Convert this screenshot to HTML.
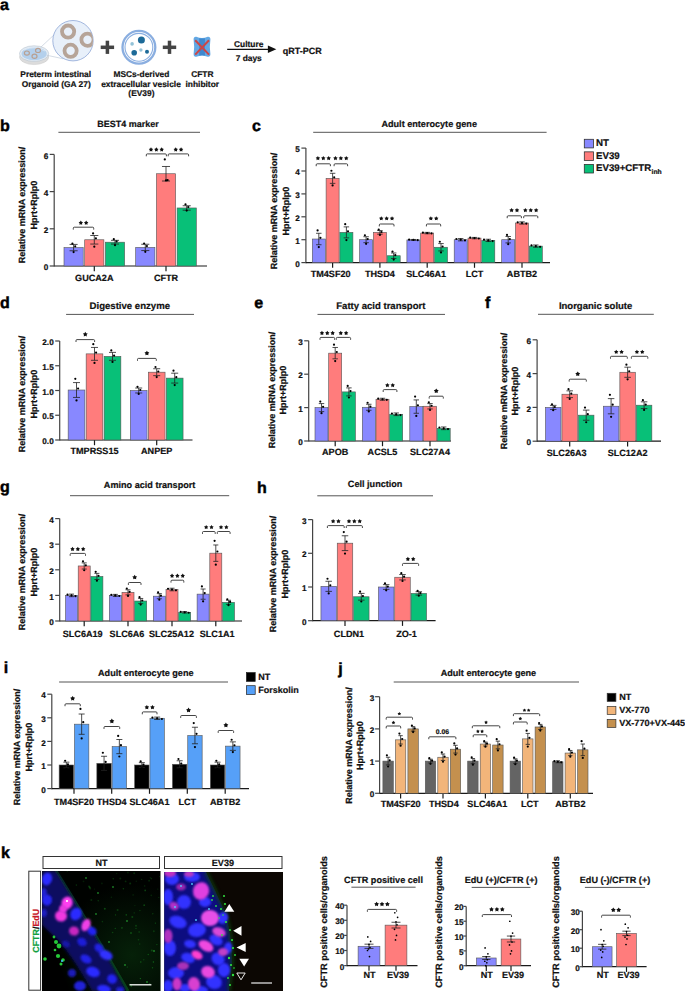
<!DOCTYPE html><html><head><meta charset="utf-8"><style>html,body{margin:0;padding:0;background:#fff;}svg{display:block;}</style></head><body>
<svg width="685" height="991" viewBox="0 0 685 991" font-family="'Liberation Sans', sans-serif" text-rendering="geometricPrecision">
<rect width="685" height="991" fill="#fff"/>
<text x="0.00" y="9.50" font-size="16" font-weight="bold" fill="#000" stroke="#000" stroke-width="0.45">a</text>
<ellipse cx="34.1" cy="57" rx="14.6" ry="7.6" fill="#dcdcdc" stroke="#c8c8c8" stroke-width="0.5"/>
<ellipse cx="34.1" cy="53.6" rx="14.6" ry="7.8" fill="#e4ecf4" stroke="#b8c4d0" stroke-width="0.6"/>
<ellipse cx="34.1" cy="53.8" rx="12.6" ry="6.4" fill="#b4d0ec"/>
<path d="M24,50 Q34,45 45,51" stroke="#dfeaf6" stroke-width="1" fill="none" opacity="0.8"/>
<ellipse cx="26.9" cy="53.1" rx="2.5" ry="2.1" fill="none" stroke="#b8a092" stroke-width="1.2"/>
<ellipse cx="38" cy="50.4" rx="2.5" ry="2.1" fill="none" stroke="#b8a092" stroke-width="1.2"/>
<ellipse cx="34.5" cy="56.3" rx="2.5" ry="2.1" fill="none" stroke="#b8a092" stroke-width="1.2"/>
<line x1="40.8" y1="47.2" x2="54.5" y2="34.4" stroke="#b8c4d4" stroke-width="0.6"/>
<line x1="46.6" y1="55.2" x2="63.3" y2="58.8" stroke="#b8c4d4" stroke-width="0.6"/>
<defs><clipPath id="zc"><circle cx="73" cy="40.7" r="20"/></clipPath></defs>
<circle cx="73" cy="40.7" r="20.2" fill="#e8f0fa" stroke="#7f9bd0" stroke-width="0.7"/>
<g clip-path="url(#zc)">
<circle cx="68.1" cy="31.6" r="6.1" fill="none" stroke="#b6a498" stroke-width="3.8"/>
<circle cx="70.6" cy="50.8" r="6.1" fill="none" stroke="#b6a498" stroke-width="3.8"/>
<circle cx="87.5" cy="39.7" r="6.1" fill="none" stroke="#b6a498" stroke-width="3.8"/>
</g>
<text x="55.70" y="77.00" font-size="8.4" text-anchor="middle" font-weight="bold" fill="#111" stroke="#111" stroke-width="0.2" >Preterm intestinal</text>
<text x="56.20" y="87.30" font-size="8.4" text-anchor="middle" font-weight="bold" fill="#111" stroke="#111" stroke-width="0.2" >Organoid (GA 27)</text>
<rect x="100.7" y="45.55" width="13.4" height="3.5" fill="#444"/>
<rect x="105.65" y="40.7" width="3.5" height="13.2" fill="#444"/>
<rect x="162.8" y="45.55" width="13.4" height="3.5" fill="#444"/>
<rect x="167.75" y="40.7" width="3.5" height="13.2" fill="#444"/>
<circle cx="138.9" cy="47.3" r="16.4" fill="none" stroke="#8aaee0" stroke-width="2.3"/>
<circle cx="138.9" cy="47.3" r="13.9" fill="#fff" stroke="#8aaee0" stroke-width="1.1"/>
<circle cx="141.4" cy="40" r="3.5" fill="#1d6a98"/>
<circle cx="134.2" cy="52.7" r="2.8" fill="#1d6a98"/>
<circle cx="147" cy="51.8" r="2.0" fill="#1d6a98"/>
<circle cx="132.1" cy="43.9" r="1.8" fill="#92c2d8"/>
<circle cx="140.9" cy="50" r="1.7" fill="#92c2d8"/>
<text x="141.40" y="76.80" font-size="8.4" text-anchor="middle" font-weight="bold" fill="#111" stroke="#111" stroke-width="0.2" >MSCs-derived</text>
<text x="141.00" y="86.80" font-size="8.4" text-anchor="middle" font-weight="bold" fill="#111" stroke="#111" stroke-width="0.2" >extracellular vesicle</text>
<text x="141.40" y="96.40" font-size="8.4" text-anchor="middle" font-weight="bold" fill="#111" stroke="#111" stroke-width="0.2" >(EV39)</text>
<path d="M196.3,36.8 Q202,39.2 207.7,36.8 Q210.4,36.4 210.4,39.5 Q209.3,46.7 210.4,54 Q210.4,57.2 207.7,56.7 Q202,54.6 196.3,56.7 Q193.6,57.2 193.6,54 Q194.7,46.7 193.6,39.5 Q193.6,36.4 196.3,36.8 Z" fill="#62a8e4"/>
<path d="M199.2,38.2 Q202,38.9 204.9,38.2 L204.9,55.4 Q202,54.7 199.2,55.4 Z" fill="#3f88cf"/>
<line x1="195.2" y1="40.2" x2="209" y2="54.6" stroke="#cc4646" stroke-width="2"/>
<line x1="209" y1="40.2" x2="195.2" y2="54.6" stroke="#cc4646" stroke-width="2"/>
<text x="202.30" y="76.90" font-size="8.4" text-anchor="middle" font-weight="bold" fill="#111" stroke="#111" stroke-width="0.2" >CFTR</text>
<text x="202.30" y="86.90" font-size="8.4" text-anchor="middle" font-weight="bold" fill="#111" stroke="#111" stroke-width="0.2" >inhibitor</text>
<line x1="227.20" y1="49.30" x2="269.00" y2="49.30" stroke="#111" stroke-width="1.2"/>
<path d="M267.9,45.6 L276.3,49.3 L267.9,53 Z" fill="#111"/>
<text x="248.70" y="46.90" font-size="8.4" text-anchor="middle" font-weight="bold" fill="#111" stroke="#111" stroke-width="0.2" >Culture</text>
<text x="248.70" y="60.70" font-size="8.4" text-anchor="middle" font-weight="bold" fill="#111" stroke="#111" stroke-width="0.2" >7 days</text>
<text x="282.80" y="53.80" font-size="9" text-anchor="start" font-weight="bold" fill="#111" stroke="#111" stroke-width="0.2" >qRT-PCR</text>
<text x="0.00" y="131.00" font-size="16" font-weight="bold" fill="#000" stroke="#000" stroke-width="0.45">b</text>
<line x1="58.40" y1="132.30" x2="200.00" y2="132.30" stroke="#555" stroke-width="1.0"/>
<text x="128.00" y="126.70" font-size="9.0" text-anchor="middle" font-weight="bold" fill="#111" stroke="#111" stroke-width="0.2" >BEST4 marker</text>
<text x="24.90" y="205.00" font-size="9" text-anchor="middle" font-weight="bold" fill="#111" stroke="#111" stroke-width="0.22" transform="rotate(-90 24.90 205.00)">Relative mRNA expression/</text>
<text x="36.90" y="205.00" font-size="9" text-anchor="middle" font-weight="bold" fill="#111" stroke="#111" stroke-width="0.22" transform="rotate(-90 36.90 205.00)">Hprt+Rplp0</text>
<line x1="54.20" y1="154.40" x2="54.20" y2="266.60" stroke="#444" stroke-width="1.2"/>
<line x1="54.20" y1="266.00" x2="207.00" y2="266.00" stroke="#1a1a1a" stroke-width="1.2"/>
<line x1="49.70" y1="266.00" x2="54.20" y2="266.00" stroke="#444" stroke-width="1.2"/>
<text x="48.20" y="270.15" font-size="8.2" text-anchor="end" font-weight="bold" fill="#111" stroke="#111" stroke-width="0.2" >0</text>
<line x1="49.70" y1="228.80" x2="54.20" y2="228.80" stroke="#444" stroke-width="1.2"/>
<text x="48.20" y="232.95" font-size="8.2" text-anchor="end" font-weight="bold" fill="#111" stroke="#111" stroke-width="0.2" >2</text>
<line x1="49.70" y1="191.60" x2="54.20" y2="191.60" stroke="#444" stroke-width="1.2"/>
<text x="48.20" y="195.75" font-size="8.2" text-anchor="end" font-weight="bold" fill="#111" stroke="#111" stroke-width="0.2" >4</text>
<line x1="49.70" y1="154.40" x2="54.20" y2="154.40" stroke="#444" stroke-width="1.2"/>
<text x="48.20" y="158.55" font-size="8.2" text-anchor="end" font-weight="bold" fill="#111" stroke="#111" stroke-width="0.2" >6</text>
<line x1="94.30" y1="266.00" x2="94.30" y2="271.20" stroke="#1a1a1a" stroke-width="1.2"/>
<rect x="64.00" y="247.59" width="19.20" height="18.41" fill="#8888FF" stroke="#555" stroke-width="0.6"/>
<line x1="73.60" y1="244.42" x2="73.60" y2="250.75" stroke="#222" stroke-width="0.8"/>
<line x1="69.57" y1="244.42" x2="77.63" y2="244.42" stroke="#222" stroke-width="0.8"/>
<line x1="69.57" y1="250.75" x2="77.63" y2="250.75" stroke="#222" stroke-width="0.8"/>
<circle cx="72.40" cy="243.68" r="1.1" fill="#000"/>
<circle cx="75.20" cy="246.28" r="1.1" fill="#000"/>
<circle cx="73.60" cy="252.05" r="1.1" fill="#000"/>
<rect x="84.70" y="239.77" width="19.20" height="26.23" fill="#FF7C7C" stroke="#555" stroke-width="0.6"/>
<line x1="94.30" y1="235.50" x2="94.30" y2="244.05" stroke="#222" stroke-width="0.8"/>
<line x1="90.27" y1="235.50" x2="98.33" y2="235.50" stroke="#222" stroke-width="0.8"/>
<line x1="90.27" y1="244.05" x2="98.33" y2="244.05" stroke="#222" stroke-width="0.8"/>
<circle cx="93.10" cy="233.45" r="1.1" fill="#000"/>
<circle cx="95.90" cy="238.29" r="1.1" fill="#000"/>
<circle cx="94.30" cy="246.66" r="1.1" fill="#000"/>
<rect x="105.40" y="242.19" width="19.20" height="23.81" fill="#08C078" stroke="#555" stroke-width="0.6"/>
<line x1="115.00" y1="240.33" x2="115.00" y2="244.05" stroke="#222" stroke-width="0.8"/>
<line x1="110.97" y1="240.33" x2="119.03" y2="240.33" stroke="#222" stroke-width="0.8"/>
<line x1="110.97" y1="244.05" x2="119.03" y2="244.05" stroke="#222" stroke-width="0.8"/>
<circle cx="113.80" cy="239.22" r="1.1" fill="#000"/>
<circle cx="116.60" cy="241.45" r="1.1" fill="#000"/>
<circle cx="115.00" cy="245.17" r="1.1" fill="#000"/>
<text x="94.30" y="281.10" font-size="9.1" text-anchor="middle" font-weight="bold" fill="#111" stroke="#111" stroke-width="0.2" >GUCA2A</text>
<line x1="166.00" y1="266.00" x2="166.00" y2="271.20" stroke="#1a1a1a" stroke-width="1.2"/>
<rect x="135.70" y="247.40" width="19.20" height="18.60" fill="#8888FF" stroke="#555" stroke-width="0.6"/>
<line x1="145.30" y1="244.24" x2="145.30" y2="250.56" stroke="#222" stroke-width="0.8"/>
<line x1="141.27" y1="244.24" x2="149.33" y2="244.24" stroke="#222" stroke-width="0.8"/>
<line x1="141.27" y1="250.56" x2="149.33" y2="250.56" stroke="#222" stroke-width="0.8"/>
<circle cx="144.10" cy="243.49" r="1.1" fill="#000"/>
<circle cx="146.90" cy="246.10" r="1.1" fill="#000"/>
<circle cx="145.30" cy="251.86" r="1.1" fill="#000"/>
<rect x="156.40" y="173.74" width="19.20" height="92.26" fill="#FF7C7C" stroke="#555" stroke-width="0.6"/>
<line x1="166.00" y1="166.49" x2="166.00" y2="181.00" stroke="#222" stroke-width="0.8"/>
<line x1="161.97" y1="166.49" x2="170.03" y2="166.49" stroke="#222" stroke-width="0.8"/>
<line x1="161.97" y1="181.00" x2="170.03" y2="181.00" stroke="#222" stroke-width="0.8"/>
<circle cx="164.80" cy="159.42" r="1.1" fill="#000"/>
<circle cx="167.60" cy="180.07" r="1.1" fill="#000"/>
<circle cx="166.00" cy="180.44" r="1.1" fill="#000"/>
<rect x="177.10" y="207.97" width="19.20" height="58.03" fill="#08C078" stroke="#555" stroke-width="0.6"/>
<line x1="186.70" y1="205.74" x2="186.70" y2="210.20" stroke="#222" stroke-width="0.8"/>
<line x1="182.67" y1="205.74" x2="190.73" y2="205.74" stroke="#222" stroke-width="0.8"/>
<line x1="182.67" y1="210.20" x2="190.73" y2="210.20" stroke="#222" stroke-width="0.8"/>
<circle cx="185.50" cy="204.43" r="1.1" fill="#000"/>
<circle cx="188.30" cy="207.04" r="1.1" fill="#000"/>
<circle cx="186.70" cy="210.57" r="1.1" fill="#000"/>
<text x="166.00" y="281.10" font-size="9.1" text-anchor="middle" font-weight="bold" fill="#111" stroke="#111" stroke-width="0.2" >CFTR</text>
<path d="M73.30,229.60 V228.20 Q73.30,227.20 74.30,227.20 H92.70 Q93.70,227.20 93.70,228.20 V229.60" fill="none" stroke="#222" stroke-width="0.85"/>
<path d="M80.83,220.60 L81.58,221.86 L83.01,222.19 L82.05,223.30 L82.18,224.76 L80.83,224.19 L79.47,224.76 L79.60,223.30 L78.64,222.19 L80.07,221.86 Z M86.17,220.60 L86.93,221.86 L88.36,222.19 L87.40,223.30 L87.53,224.76 L86.17,224.19 L84.82,224.76 L84.95,223.30 L83.99,222.19 L85.42,221.86 Z" fill="#111"/>
<path d="M146.30,156.30 V154.90 Q146.30,153.90 147.30,153.90 H165.40 Q166.40,153.90 166.40,154.90 V156.30" fill="none" stroke="#222" stroke-width="0.85"/>
<path d="M151.00,147.30 L151.76,148.56 L153.19,148.89 L152.22,150.00 L152.35,151.46 L151.00,150.89 L149.65,151.46 L149.78,150.00 L148.81,148.89 L150.24,148.56 Z M156.35,147.30 L157.11,148.56 L158.54,148.89 L157.57,150.00 L157.70,151.46 L156.35,150.89 L155.00,151.46 L155.13,150.00 L154.16,148.89 L155.59,148.56 Z M161.70,147.30 L162.46,148.56 L163.89,148.89 L162.92,150.00 L163.05,151.46 L161.70,150.89 L160.35,151.46 L160.48,150.00 L159.51,148.89 L160.94,148.56 Z" fill="#111"/>
<path d="M168.20,156.30 V154.90 Q168.20,153.90 169.20,153.90 H187.60 Q188.60,153.90 188.60,154.90 V156.30" fill="none" stroke="#222" stroke-width="0.85"/>
<path d="M175.72,147.30 L176.48,148.56 L177.91,148.89 L176.95,150.00 L177.08,151.46 L175.72,150.89 L174.37,151.46 L174.50,150.00 L173.54,148.89 L174.97,148.56 Z M181.07,147.30 L181.83,148.56 L183.26,148.89 L182.30,150.00 L182.43,151.46 L181.07,150.89 L179.72,151.46 L179.85,150.00 L178.89,148.89 L180.32,148.56 Z" fill="#111"/>
<text x="252.00" y="131.20" font-size="16" font-weight="bold" fill="#000" stroke="#000" stroke-width="0.45">c</text>
<line x1="313.20" y1="132.30" x2="546.60" y2="132.30" stroke="#555" stroke-width="1.0"/>
<text x="429.20" y="126.90" font-size="9.1" text-anchor="middle" font-weight="bold" fill="#111" stroke="#111" stroke-width="0.2" >Adult enterocyte gene</text>
<text x="277.40" y="211.00" font-size="9" text-anchor="middle" font-weight="bold" fill="#111" stroke="#111" stroke-width="0.22" transform="rotate(-90 277.40 211.00)">Relative mRNA expression/</text>
<text x="288.60" y="211.00" font-size="9" text-anchor="middle" font-weight="bold" fill="#111" stroke="#111" stroke-width="0.22" transform="rotate(-90 288.60 211.00)">Hprt+Rplp0</text>
<line x1="305.90" y1="148.10" x2="305.90" y2="263.20" stroke="#444" stroke-width="1.2"/>
<line x1="305.90" y1="262.60" x2="550.00" y2="262.60" stroke="#1a1a1a" stroke-width="1.2"/>
<line x1="301.40" y1="262.60" x2="305.90" y2="262.60" stroke="#444" stroke-width="1.2"/>
<text x="299.90" y="266.75" font-size="8.2" text-anchor="end" font-weight="bold" fill="#111" stroke="#111" stroke-width="0.2" >0</text>
<line x1="301.40" y1="239.70" x2="305.90" y2="239.70" stroke="#444" stroke-width="1.2"/>
<text x="299.90" y="243.85" font-size="8.2" text-anchor="end" font-weight="bold" fill="#111" stroke="#111" stroke-width="0.2" >1</text>
<line x1="301.40" y1="216.80" x2="305.90" y2="216.80" stroke="#444" stroke-width="1.2"/>
<text x="299.90" y="220.95" font-size="8.2" text-anchor="end" font-weight="bold" fill="#111" stroke="#111" stroke-width="0.2" >2</text>
<line x1="301.40" y1="193.90" x2="305.90" y2="193.90" stroke="#444" stroke-width="1.2"/>
<text x="299.90" y="198.05" font-size="8.2" text-anchor="end" font-weight="bold" fill="#111" stroke="#111" stroke-width="0.2" >3</text>
<line x1="301.40" y1="171.00" x2="305.90" y2="171.00" stroke="#444" stroke-width="1.2"/>
<text x="299.90" y="175.15" font-size="8.2" text-anchor="end" font-weight="bold" fill="#111" stroke="#111" stroke-width="0.2" >4</text>
<line x1="301.40" y1="148.10" x2="305.90" y2="148.10" stroke="#444" stroke-width="1.2"/>
<text x="299.90" y="152.25" font-size="8.2" text-anchor="end" font-weight="bold" fill="#111" stroke="#111" stroke-width="0.2" >5</text>
<line x1="332.60" y1="262.60" x2="332.60" y2="267.80" stroke="#1a1a1a" stroke-width="1.2"/>
<rect x="312.30" y="239.01" width="13.00" height="23.59" fill="#8888FF" stroke="#555" stroke-width="0.6"/>
<line x1="318.80" y1="233.29" x2="318.80" y2="244.74" stroke="#222" stroke-width="0.8"/>
<line x1="316.07" y1="233.29" x2="321.53" y2="233.29" stroke="#222" stroke-width="0.8"/>
<line x1="316.07" y1="244.74" x2="321.53" y2="244.74" stroke="#222" stroke-width="0.8"/>
<circle cx="317.60" cy="230.43" r="1.1" fill="#000"/>
<circle cx="320.40" cy="237.87" r="1.1" fill="#000"/>
<circle cx="318.80" cy="247.03" r="1.1" fill="#000"/>
<rect x="326.10" y="178.33" width="13.00" height="84.27" fill="#FF7C7C" stroke="#555" stroke-width="0.6"/>
<line x1="332.60" y1="173.29" x2="332.60" y2="183.37" stroke="#222" stroke-width="0.8"/>
<line x1="329.87" y1="173.29" x2="335.33" y2="173.29" stroke="#222" stroke-width="0.8"/>
<line x1="329.87" y1="183.37" x2="335.33" y2="183.37" stroke="#222" stroke-width="0.8"/>
<circle cx="331.40" cy="170.77" r="1.1" fill="#000"/>
<circle cx="334.20" cy="177.32" r="1.1" fill="#000"/>
<circle cx="332.60" cy="185.38" r="1.1" fill="#000"/>
<rect x="339.90" y="232.37" width="13.00" height="30.23" fill="#08C078" stroke="#555" stroke-width="0.6"/>
<line x1="346.40" y1="226.88" x2="346.40" y2="237.87" stroke="#222" stroke-width="0.8"/>
<line x1="343.67" y1="226.88" x2="349.13" y2="226.88" stroke="#222" stroke-width="0.8"/>
<line x1="343.67" y1="237.87" x2="349.13" y2="237.87" stroke="#222" stroke-width="0.8"/>
<circle cx="345.20" cy="224.13" r="1.1" fill="#000"/>
<circle cx="348.00" cy="231.27" r="1.1" fill="#000"/>
<circle cx="346.40" cy="240.07" r="1.1" fill="#000"/>
<text x="330.60" y="277.10" font-size="9.1" text-anchor="middle" font-weight="bold" fill="#111" stroke="#111" stroke-width="0.2" >TM4SF20</text>
<line x1="379.90" y1="262.60" x2="379.90" y2="267.80" stroke="#1a1a1a" stroke-width="1.2"/>
<rect x="359.60" y="239.70" width="13.00" height="22.90" fill="#8888FF" stroke="#555" stroke-width="0.6"/>
<line x1="366.10" y1="236.72" x2="366.10" y2="242.68" stroke="#222" stroke-width="0.8"/>
<line x1="363.37" y1="236.72" x2="368.83" y2="236.72" stroke="#222" stroke-width="0.8"/>
<line x1="363.37" y1="242.68" x2="368.83" y2="242.68" stroke="#222" stroke-width="0.8"/>
<circle cx="364.90" cy="235.23" r="1.1" fill="#000"/>
<circle cx="367.70" cy="239.10" r="1.1" fill="#000"/>
<circle cx="366.10" cy="243.87" r="1.1" fill="#000"/>
<rect x="373.40" y="232.37" width="13.00" height="30.23" fill="#FF7C7C" stroke="#555" stroke-width="0.6"/>
<line x1="379.90" y1="230.54" x2="379.90" y2="234.20" stroke="#222" stroke-width="0.8"/>
<line x1="377.17" y1="230.54" x2="382.63" y2="230.54" stroke="#222" stroke-width="0.8"/>
<line x1="377.17" y1="234.20" x2="382.63" y2="234.20" stroke="#222" stroke-width="0.8"/>
<circle cx="378.70" cy="229.62" r="1.1" fill="#000"/>
<circle cx="381.50" cy="232.01" r="1.1" fill="#000"/>
<circle cx="379.90" cy="234.94" r="1.1" fill="#000"/>
<rect x="387.20" y="255.73" width="13.00" height="6.87" fill="#08C078" stroke="#555" stroke-width="0.6"/>
<line x1="393.70" y1="252.98" x2="393.70" y2="258.48" stroke="#222" stroke-width="0.8"/>
<line x1="390.97" y1="252.98" x2="396.43" y2="252.98" stroke="#222" stroke-width="0.8"/>
<line x1="390.97" y1="258.48" x2="396.43" y2="258.48" stroke="#222" stroke-width="0.8"/>
<circle cx="392.50" cy="251.61" r="1.1" fill="#000"/>
<circle cx="395.30" cy="255.18" r="1.1" fill="#000"/>
<circle cx="393.70" cy="259.58" r="1.1" fill="#000"/>
<text x="379.90" y="277.10" font-size="9.1" text-anchor="middle" font-weight="bold" fill="#111" stroke="#111" stroke-width="0.2" >THSD4</text>
<line x1="427.20" y1="262.60" x2="427.20" y2="267.80" stroke="#1a1a1a" stroke-width="1.2"/>
<rect x="406.90" y="239.93" width="13.00" height="22.67" fill="#8888FF" stroke="#555" stroke-width="0.6"/>
<line x1="413.40" y1="239.47" x2="413.40" y2="240.39" stroke="#222" stroke-width="0.8"/>
<line x1="410.67" y1="239.47" x2="416.13" y2="239.47" stroke="#222" stroke-width="0.8"/>
<line x1="410.67" y1="240.39" x2="416.13" y2="240.39" stroke="#222" stroke-width="0.8"/>
<circle cx="409.11" cy="239.65" r="1.1" fill="#000"/>
<circle cx="413.40" cy="239.93" r="1.1" fill="#000"/>
<circle cx="417.69" cy="240.20" r="1.1" fill="#000"/>
<rect x="420.70" y="233.06" width="13.00" height="29.54" fill="#FF7C7C" stroke="#555" stroke-width="0.6"/>
<line x1="427.20" y1="232.37" x2="427.20" y2="233.75" stroke="#222" stroke-width="0.8"/>
<line x1="424.47" y1="232.37" x2="429.93" y2="232.37" stroke="#222" stroke-width="0.8"/>
<line x1="424.47" y1="233.75" x2="429.93" y2="233.75" stroke="#222" stroke-width="0.8"/>
<circle cx="422.91" cy="232.65" r="1.1" fill="#000"/>
<circle cx="427.20" cy="233.06" r="1.1" fill="#000"/>
<circle cx="431.49" cy="233.47" r="1.1" fill="#000"/>
<rect x="434.50" y="247.26" width="13.00" height="15.34" fill="#08C078" stroke="#555" stroke-width="0.6"/>
<line x1="441.00" y1="243.59" x2="441.00" y2="250.92" stroke="#222" stroke-width="0.8"/>
<line x1="438.27" y1="243.59" x2="443.73" y2="243.59" stroke="#222" stroke-width="0.8"/>
<line x1="438.27" y1="250.92" x2="443.73" y2="250.92" stroke="#222" stroke-width="0.8"/>
<circle cx="439.80" cy="241.76" r="1.1" fill="#000"/>
<circle cx="442.60" cy="246.52" r="1.1" fill="#000"/>
<circle cx="441.00" cy="252.39" r="1.1" fill="#000"/>
<text x="426.20" y="277.10" font-size="9.1" text-anchor="middle" font-weight="bold" fill="#111" stroke="#111" stroke-width="0.2" >SLC46A1</text>
<line x1="474.50" y1="262.60" x2="474.50" y2="267.80" stroke="#1a1a1a" stroke-width="1.2"/>
<rect x="454.20" y="239.70" width="13.00" height="22.90" fill="#8888FF" stroke="#555" stroke-width="0.6"/>
<line x1="460.70" y1="238.56" x2="460.70" y2="240.85" stroke="#222" stroke-width="0.8"/>
<line x1="457.97" y1="238.56" x2="463.43" y2="238.56" stroke="#222" stroke-width="0.8"/>
<line x1="457.97" y1="240.85" x2="463.43" y2="240.85" stroke="#222" stroke-width="0.8"/>
<circle cx="456.41" cy="239.01" r="1.1" fill="#000"/>
<circle cx="460.70" cy="239.70" r="1.1" fill="#000"/>
<circle cx="464.99" cy="240.39" r="1.1" fill="#000"/>
<rect x="468.00" y="238.10" width="13.00" height="24.50" fill="#FF7C7C" stroke="#555" stroke-width="0.6"/>
<line x1="474.50" y1="237.41" x2="474.50" y2="238.78" stroke="#222" stroke-width="0.8"/>
<line x1="471.77" y1="237.41" x2="477.23" y2="237.41" stroke="#222" stroke-width="0.8"/>
<line x1="471.77" y1="238.78" x2="477.23" y2="238.78" stroke="#222" stroke-width="0.8"/>
<circle cx="470.21" cy="237.68" r="1.1" fill="#000"/>
<circle cx="474.50" cy="238.10" r="1.1" fill="#000"/>
<circle cx="478.79" cy="238.51" r="1.1" fill="#000"/>
<rect x="481.80" y="240.39" width="13.00" height="22.21" fill="#08C078" stroke="#555" stroke-width="0.6"/>
<line x1="488.30" y1="239.24" x2="488.30" y2="241.53" stroke="#222" stroke-width="0.8"/>
<line x1="485.57" y1="239.24" x2="491.03" y2="239.24" stroke="#222" stroke-width="0.8"/>
<line x1="485.57" y1="241.53" x2="491.03" y2="241.53" stroke="#222" stroke-width="0.8"/>
<circle cx="484.01" cy="239.70" r="1.1" fill="#000"/>
<circle cx="488.30" cy="240.39" r="1.1" fill="#000"/>
<circle cx="492.59" cy="241.07" r="1.1" fill="#000"/>
<text x="474.50" y="277.10" font-size="9.1" text-anchor="middle" font-weight="bold" fill="#111" stroke="#111" stroke-width="0.2" >LCT</text>
<line x1="522.00" y1="262.60" x2="522.00" y2="267.80" stroke="#1a1a1a" stroke-width="1.2"/>
<rect x="501.70" y="239.70" width="13.00" height="22.90" fill="#8888FF" stroke="#555" stroke-width="0.6"/>
<line x1="508.20" y1="236.49" x2="508.20" y2="242.91" stroke="#222" stroke-width="0.8"/>
<line x1="505.47" y1="236.49" x2="510.93" y2="236.49" stroke="#222" stroke-width="0.8"/>
<line x1="505.47" y1="242.91" x2="510.93" y2="242.91" stroke="#222" stroke-width="0.8"/>
<circle cx="507.00" cy="234.89" r="1.1" fill="#000"/>
<circle cx="509.80" cy="239.06" r="1.1" fill="#000"/>
<circle cx="508.20" cy="244.19" r="1.1" fill="#000"/>
<rect x="515.50" y="222.98" width="13.00" height="39.62" fill="#FF7C7C" stroke="#555" stroke-width="0.6"/>
<line x1="522.00" y1="221.84" x2="522.00" y2="224.13" stroke="#222" stroke-width="0.8"/>
<line x1="519.27" y1="221.84" x2="524.73" y2="221.84" stroke="#222" stroke-width="0.8"/>
<line x1="519.27" y1="224.13" x2="524.73" y2="224.13" stroke="#222" stroke-width="0.8"/>
<circle cx="517.71" cy="222.30" r="1.1" fill="#000"/>
<circle cx="522.00" cy="222.98" r="1.1" fill="#000"/>
<circle cx="526.29" cy="223.67" r="1.1" fill="#000"/>
<rect x="529.30" y="246.11" width="13.00" height="16.49" fill="#08C078" stroke="#555" stroke-width="0.6"/>
<line x1="535.80" y1="244.97" x2="535.80" y2="247.26" stroke="#222" stroke-width="0.8"/>
<line x1="533.07" y1="244.97" x2="538.53" y2="244.97" stroke="#222" stroke-width="0.8"/>
<line x1="533.07" y1="247.26" x2="538.53" y2="247.26" stroke="#222" stroke-width="0.8"/>
<circle cx="531.51" cy="245.43" r="1.1" fill="#000"/>
<circle cx="535.80" cy="246.11" r="1.1" fill="#000"/>
<circle cx="540.09" cy="246.80" r="1.1" fill="#000"/>
<text x="522.00" y="277.10" font-size="9.1" text-anchor="middle" font-weight="bold" fill="#111" stroke="#111" stroke-width="0.2" >ABTB2</text>
<path d="M316.20,166.20 V164.80 Q316.20,163.80 317.20,163.80 H329.40 Q330.40,163.80 330.40,164.80 V166.20" fill="none" stroke="#222" stroke-width="0.85"/>
<path d="M317.90,156.00 L318.66,157.26 L320.09,157.59 L319.12,158.70 L319.25,160.16 L317.90,159.59 L316.55,160.16 L316.68,158.70 L315.71,157.59 L317.14,157.26 Z M323.30,156.00 L324.06,157.26 L325.49,157.59 L324.52,158.70 L324.65,160.16 L323.30,159.59 L321.95,160.16 L322.08,158.70 L321.11,157.59 L322.54,157.26 Z M328.70,156.00 L329.46,157.26 L330.89,157.59 L329.92,158.70 L330.05,160.16 L328.70,159.59 L327.35,160.16 L327.48,158.70 L326.51,157.59 L327.94,157.26 Z" fill="#111"/>
<path d="M334.10,166.20 V164.80 Q334.10,163.80 335.10,163.80 H346.60 Q347.60,163.80 347.60,164.80 V166.20" fill="none" stroke="#222" stroke-width="0.85"/>
<path d="M335.45,156.00 L336.21,157.26 L337.64,157.59 L336.67,158.70 L336.80,160.16 L335.45,159.59 L334.10,160.16 L334.23,158.70 L333.26,157.59 L334.69,157.26 Z M340.85,156.00 L341.61,157.26 L343.04,157.59 L342.07,158.70 L342.20,160.16 L340.85,159.59 L339.50,160.16 L339.63,158.70 L338.66,157.59 L340.09,157.26 Z M346.25,156.00 L347.01,157.26 L348.44,157.59 L347.47,158.70 L347.60,160.16 L346.25,159.59 L344.90,160.16 L345.03,158.70 L344.06,157.59 L345.49,157.26 Z" fill="#111"/>
<path d="M379.30,226.40 V225.00 Q379.30,224.00 380.30,224.00 H393.00 Q394.00,224.00 394.00,225.00 V226.40" fill="none" stroke="#222" stroke-width="0.85"/>
<path d="M381.25,216.20 L382.01,217.46 L383.44,217.79 L382.47,218.90 L382.60,220.36 L381.25,219.79 L379.90,220.36 L380.03,218.90 L379.06,217.79 L380.49,217.46 Z M386.65,216.20 L387.41,217.46 L388.84,217.79 L387.87,218.90 L388.00,220.36 L386.65,219.79 L385.30,220.36 L385.43,218.90 L384.46,217.79 L385.89,217.46 Z M392.05,216.20 L392.81,217.46 L394.24,217.79 L393.27,218.90 L393.40,220.36 L392.05,219.79 L390.70,220.36 L390.83,218.90 L389.86,217.79 L391.29,217.46 Z" fill="#111"/>
<path d="M426.40,226.40 V225.00 Q426.40,224.00 427.40,224.00 H439.70 Q440.70,224.00 440.70,225.00 V226.40" fill="none" stroke="#222" stroke-width="0.85"/>
<path d="M430.85,216.20 L431.61,217.46 L433.04,217.79 L432.07,218.90 L432.20,220.36 L430.85,219.79 L429.50,220.36 L429.63,218.90 L428.66,217.79 L430.09,217.46 Z M436.25,216.20 L437.01,217.46 L438.44,217.79 L437.47,218.90 L437.60,220.36 L436.25,219.79 L434.90,220.36 L435.03,218.90 L434.06,217.79 L435.49,217.46 Z" fill="#111"/>
<path d="M507.20,218.20 V216.80 Q507.20,215.80 508.20,215.80 H520.40 Q521.40,215.80 521.40,216.80 V218.20" fill="none" stroke="#222" stroke-width="0.85"/>
<path d="M511.60,208.00 L512.36,209.26 L513.79,209.59 L512.82,210.70 L512.95,212.16 L511.60,211.59 L510.25,212.16 L510.38,210.70 L509.41,209.59 L510.84,209.26 Z M517.00,208.00 L517.76,209.26 L519.19,209.59 L518.22,210.70 L518.35,212.16 L517.00,211.59 L515.65,212.16 L515.78,210.70 L514.81,209.59 L516.24,209.26 Z" fill="#111"/>
<path d="M523.70,218.20 V216.80 Q523.70,215.80 524.70,215.80 H536.80 Q537.80,215.80 537.80,216.80 V218.20" fill="none" stroke="#222" stroke-width="0.85"/>
<path d="M525.35,208.00 L526.11,209.26 L527.54,209.59 L526.57,210.70 L526.70,212.16 L525.35,211.59 L524.00,212.16 L524.13,210.70 L523.16,209.59 L524.59,209.26 Z M530.75,208.00 L531.51,209.26 L532.94,209.59 L531.97,210.70 L532.10,212.16 L530.75,211.59 L529.40,212.16 L529.53,210.70 L528.56,209.59 L529.99,209.26 Z M536.15,208.00 L536.91,209.26 L538.34,209.59 L537.37,210.70 L537.50,212.16 L536.15,211.59 L534.80,212.16 L534.93,210.70 L533.96,209.59 L535.39,209.26 Z" fill="#111"/>
<rect x="584.30" y="139.30" width="9.20" height="8.60" fill="#8888FF" stroke="#333" stroke-width="0.8"/>
<text x="596.00" y="146.30" font-size="9.7" text-anchor="start" font-weight="bold" fill="#111" stroke="#111" stroke-width="0.2" >NT</text>
<rect x="584.30" y="151.85" width="9.20" height="8.60" fill="#FF7C7C" stroke="#333" stroke-width="0.8"/>
<text x="596.00" y="158.85" font-size="9.7" text-anchor="start" font-weight="bold" fill="#111" stroke="#111" stroke-width="0.2" >EV39</text>
<rect x="584.30" y="164.40" width="9.20" height="8.60" fill="#08C078" stroke="#333" stroke-width="0.8"/>
<text x="596.00" y="171.40" font-size="9.7" text-anchor="start" font-weight="bold" fill="#111" stroke="#111" stroke-width="0.2" >EV39+CFTR</text>
<text x="651.50" y="174.00" font-size="6.8" text-anchor="start" font-weight="bold" fill="#111" stroke="#111" stroke-width="0.2" >inh</text>
<text x="0.00" y="307.50" font-size="16" font-weight="bold" fill="#000" stroke="#000" stroke-width="0.45">d</text>
<line x1="66.10" y1="314.40" x2="194.00" y2="314.40" stroke="#555" stroke-width="1.0"/>
<text x="129.80" y="308.50" font-size="9.6" text-anchor="middle" font-weight="bold" fill="#111" stroke="#111" stroke-width="0.2" >Digestive enzyme</text>
<text x="24.60" y="394.00" font-size="9" text-anchor="middle" font-weight="bold" fill="#111" stroke="#111" stroke-width="0.22" transform="rotate(-90 24.60 394.00)">Relative mRNA expression/</text>
<text x="36.90" y="394.00" font-size="9" text-anchor="middle" font-weight="bold" fill="#111" stroke="#111" stroke-width="0.22" transform="rotate(-90 36.90 394.00)">Hprt+Rplp0</text>
<line x1="59.70" y1="341.00" x2="59.70" y2="440.60" stroke="#444" stroke-width="1.2"/>
<line x1="59.70" y1="440.00" x2="192.50" y2="440.00" stroke="#1a1a1a" stroke-width="1.2"/>
<line x1="55.20" y1="440.00" x2="59.70" y2="440.00" stroke="#444" stroke-width="1.2"/>
<text x="53.70" y="444.15" font-size="8.2" text-anchor="end" font-weight="bold" fill="#111" stroke="#111" stroke-width="0.2" >0.0</text>
<line x1="55.20" y1="415.25" x2="59.70" y2="415.25" stroke="#444" stroke-width="1.2"/>
<text x="53.70" y="419.40" font-size="8.2" text-anchor="end" font-weight="bold" fill="#111" stroke="#111" stroke-width="0.2" >0.5</text>
<line x1="55.20" y1="390.50" x2="59.70" y2="390.50" stroke="#444" stroke-width="1.2"/>
<text x="53.70" y="394.65" font-size="8.2" text-anchor="end" font-weight="bold" fill="#111" stroke="#111" stroke-width="0.2" >1.0</text>
<line x1="55.20" y1="365.75" x2="59.70" y2="365.75" stroke="#444" stroke-width="1.2"/>
<text x="53.70" y="369.90" font-size="8.2" text-anchor="end" font-weight="bold" fill="#111" stroke="#111" stroke-width="0.2" >1.5</text>
<line x1="55.20" y1="341.00" x2="59.70" y2="341.00" stroke="#444" stroke-width="1.2"/>
<text x="53.70" y="345.15" font-size="8.2" text-anchor="end" font-weight="bold" fill="#111" stroke="#111" stroke-width="0.2" >2.0</text>
<line x1="94.50" y1="440.00" x2="94.50" y2="445.20" stroke="#1a1a1a" stroke-width="1.2"/>
<rect x="68.15" y="390.00" width="16.70" height="49.99" fill="#8888FF" stroke="#555" stroke-width="0.6"/>
<line x1="76.50" y1="382.58" x2="76.50" y2="397.43" stroke="#222" stroke-width="0.8"/>
<line x1="72.99" y1="382.58" x2="80.01" y2="382.58" stroke="#222" stroke-width="0.8"/>
<line x1="72.99" y1="397.43" x2="80.01" y2="397.43" stroke="#222" stroke-width="0.8"/>
<circle cx="75.30" cy="378.87" r="1.1" fill="#000"/>
<circle cx="78.10" cy="388.52" r="1.1" fill="#000"/>
<circle cx="76.50" cy="400.40" r="1.1" fill="#000"/>
<rect x="86.15" y="353.87" width="16.70" height="86.13" fill="#FF7C7C" stroke="#555" stroke-width="0.6"/>
<line x1="94.50" y1="347.44" x2="94.50" y2="360.31" stroke="#222" stroke-width="0.8"/>
<line x1="90.99" y1="347.44" x2="98.01" y2="347.44" stroke="#222" stroke-width="0.8"/>
<line x1="90.99" y1="360.31" x2="98.01" y2="360.31" stroke="#222" stroke-width="0.8"/>
<circle cx="93.30" cy="344.22" r="1.1" fill="#000"/>
<circle cx="96.10" cy="352.58" r="1.1" fill="#000"/>
<circle cx="94.50" cy="362.88" r="1.1" fill="#000"/>
<rect x="104.15" y="356.35" width="16.70" height="83.66" fill="#08C078" stroke="#555" stroke-width="0.6"/>
<line x1="112.50" y1="352.38" x2="112.50" y2="360.31" stroke="#222" stroke-width="0.8"/>
<line x1="108.99" y1="352.38" x2="116.01" y2="352.38" stroke="#222" stroke-width="0.8"/>
<line x1="108.99" y1="360.31" x2="116.01" y2="360.31" stroke="#222" stroke-width="0.8"/>
<circle cx="111.30" cy="350.40" r="1.1" fill="#000"/>
<circle cx="114.10" cy="355.55" r="1.1" fill="#000"/>
<circle cx="112.50" cy="361.89" r="1.1" fill="#000"/>
<text x="94.50" y="454.10" font-size="9.1" text-anchor="middle" font-weight="bold" fill="#111" stroke="#111" stroke-width="0.2" >TMPRSS15</text>
<line x1="156.70" y1="440.00" x2="156.70" y2="445.20" stroke="#1a1a1a" stroke-width="1.2"/>
<rect x="130.35" y="390.50" width="16.70" height="49.50" fill="#8888FF" stroke="#555" stroke-width="0.6"/>
<line x1="138.70" y1="388.02" x2="138.70" y2="392.98" stroke="#222" stroke-width="0.8"/>
<line x1="135.19" y1="388.02" x2="142.21" y2="388.02" stroke="#222" stroke-width="0.8"/>
<line x1="135.19" y1="392.98" x2="142.21" y2="392.98" stroke="#222" stroke-width="0.8"/>
<circle cx="137.50" cy="386.79" r="1.1" fill="#000"/>
<circle cx="140.30" cy="390.00" r="1.1" fill="#000"/>
<circle cx="138.70" cy="393.96" r="1.1" fill="#000"/>
<rect x="148.35" y="372.19" width="16.70" height="67.82" fill="#FF7C7C" stroke="#555" stroke-width="0.6"/>
<line x1="156.70" y1="368.72" x2="156.70" y2="375.65" stroke="#222" stroke-width="0.8"/>
<line x1="153.19" y1="368.72" x2="160.21" y2="368.72" stroke="#222" stroke-width="0.8"/>
<line x1="153.19" y1="375.65" x2="160.21" y2="375.65" stroke="#222" stroke-width="0.8"/>
<circle cx="155.50" cy="366.99" r="1.1" fill="#000"/>
<circle cx="158.30" cy="371.49" r="1.1" fill="#000"/>
<circle cx="156.70" cy="377.04" r="1.1" fill="#000"/>
<rect x="166.35" y="378.12" width="16.70" height="61.88" fill="#08C078" stroke="#555" stroke-width="0.6"/>
<line x1="174.70" y1="373.18" x2="174.70" y2="383.07" stroke="#222" stroke-width="0.8"/>
<line x1="171.19" y1="373.18" x2="178.21" y2="373.18" stroke="#222" stroke-width="0.8"/>
<line x1="171.19" y1="383.07" x2="178.21" y2="383.07" stroke="#222" stroke-width="0.8"/>
<circle cx="173.50" cy="370.70" r="1.1" fill="#000"/>
<circle cx="176.30" cy="377.13" r="1.1" fill="#000"/>
<circle cx="174.70" cy="385.06" r="1.1" fill="#000"/>
<text x="156.70" y="454.10" font-size="9.1" text-anchor="middle" font-weight="bold" fill="#111" stroke="#111" stroke-width="0.2" >ANPEP</text>
<path d="M76.00,342.00 V340.60 Q76.00,339.60 77.00,339.60 H93.60 Q94.60,339.60 94.60,340.60 V342.00" fill="none" stroke="#222" stroke-width="0.85"/>
<path d="M85.30,331.85 L86.14,333.24 L87.73,333.61 L86.66,334.84 L86.80,336.46 L85.30,335.83 L83.80,336.46 L83.94,334.84 L82.87,333.61 L84.46,333.24 Z" fill="#111"/>
<path d="M137.50,360.80 V359.40 Q137.50,358.40 138.50,358.40 H155.30 Q156.30,358.40 156.30,359.40 V360.80" fill="none" stroke="#222" stroke-width="0.85"/>
<path d="M146.90,350.65 L147.74,352.04 L149.33,352.41 L148.26,353.64 L148.40,355.26 L146.90,354.63 L145.40,355.26 L145.54,353.64 L144.47,352.41 L146.06,352.04 Z" fill="#111"/>
<text x="254.20" y="307.50" font-size="16" font-weight="bold" fill="#000" stroke="#000" stroke-width="0.45">e</text>
<line x1="317.50" y1="314.40" x2="445.00" y2="314.40" stroke="#555" stroke-width="1.0"/>
<text x="380.80" y="308.60" font-size="9.55" text-anchor="middle" font-weight="bold" fill="#111" stroke="#111" stroke-width="0.2" >Fatty acid transport</text>
<text x="274.80" y="390.00" font-size="9" text-anchor="middle" font-weight="bold" fill="#111" stroke="#111" stroke-width="0.22" transform="rotate(-90 274.80 390.00)">Relative mRNA expression/</text>
<text x="286.30" y="390.00" font-size="9" text-anchor="middle" font-weight="bold" fill="#111" stroke="#111" stroke-width="0.22" transform="rotate(-90 286.30 390.00)">Hprt+Rplp0</text>
<line x1="308.70" y1="340.80" x2="308.70" y2="441.60" stroke="#444" stroke-width="1.2"/>
<line x1="308.70" y1="441.00" x2="451.00" y2="441.00" stroke="#1a1a1a" stroke-width="1.2"/>
<line x1="304.20" y1="441.00" x2="308.70" y2="441.00" stroke="#444" stroke-width="1.2"/>
<text x="302.70" y="445.15" font-size="8.2" text-anchor="end" font-weight="bold" fill="#111" stroke="#111" stroke-width="0.2" >0</text>
<line x1="304.20" y1="407.60" x2="308.70" y2="407.60" stroke="#444" stroke-width="1.2"/>
<text x="302.70" y="411.75" font-size="8.2" text-anchor="end" font-weight="bold" fill="#111" stroke="#111" stroke-width="0.2" >1</text>
<line x1="304.20" y1="374.20" x2="308.70" y2="374.20" stroke="#444" stroke-width="1.2"/>
<text x="302.70" y="378.35" font-size="8.2" text-anchor="end" font-weight="bold" fill="#111" stroke="#111" stroke-width="0.2" >2</text>
<line x1="304.20" y1="340.80" x2="308.70" y2="340.80" stroke="#444" stroke-width="1.2"/>
<text x="302.70" y="344.95" font-size="8.2" text-anchor="end" font-weight="bold" fill="#111" stroke="#111" stroke-width="0.2" >3</text>
<line x1="335.20" y1="441.00" x2="335.20" y2="446.20" stroke="#1a1a1a" stroke-width="1.2"/>
<rect x="315.00" y="407.60" width="13.00" height="33.40" fill="#8888FF" stroke="#555" stroke-width="0.6"/>
<line x1="321.50" y1="403.59" x2="321.50" y2="411.61" stroke="#222" stroke-width="0.8"/>
<line x1="318.77" y1="403.59" x2="324.23" y2="403.59" stroke="#222" stroke-width="0.8"/>
<line x1="318.77" y1="411.61" x2="324.23" y2="411.61" stroke="#222" stroke-width="0.8"/>
<circle cx="320.30" cy="401.59" r="1.1" fill="#000"/>
<circle cx="323.10" cy="406.80" r="1.1" fill="#000"/>
<circle cx="321.50" cy="413.21" r="1.1" fill="#000"/>
<rect x="328.70" y="353.16" width="13.00" height="87.84" fill="#FF7C7C" stroke="#555" stroke-width="0.6"/>
<line x1="335.20" y1="347.48" x2="335.20" y2="358.84" stroke="#222" stroke-width="0.8"/>
<line x1="332.47" y1="347.48" x2="337.93" y2="347.48" stroke="#222" stroke-width="0.8"/>
<line x1="332.47" y1="358.84" x2="337.93" y2="358.84" stroke="#222" stroke-width="0.8"/>
<circle cx="334.00" cy="344.64" r="1.1" fill="#000"/>
<circle cx="336.80" cy="352.02" r="1.1" fill="#000"/>
<circle cx="335.20" cy="361.11" r="1.1" fill="#000"/>
<rect x="342.40" y="391.90" width="13.00" height="49.10" fill="#08C078" stroke="#555" stroke-width="0.6"/>
<line x1="348.90" y1="387.89" x2="348.90" y2="395.91" stroke="#222" stroke-width="0.8"/>
<line x1="346.17" y1="387.89" x2="351.63" y2="387.89" stroke="#222" stroke-width="0.8"/>
<line x1="346.17" y1="395.91" x2="351.63" y2="395.91" stroke="#222" stroke-width="0.8"/>
<circle cx="347.70" cy="385.89" r="1.1" fill="#000"/>
<circle cx="350.50" cy="391.10" r="1.1" fill="#000"/>
<circle cx="348.90" cy="397.51" r="1.1" fill="#000"/>
<text x="335.20" y="455.30" font-size="9.1" text-anchor="middle" font-weight="bold" fill="#111" stroke="#111" stroke-width="0.2" >APOB</text>
<line x1="382.50" y1="441.00" x2="382.50" y2="446.20" stroke="#1a1a1a" stroke-width="1.2"/>
<rect x="362.30" y="407.27" width="13.00" height="33.73" fill="#8888FF" stroke="#555" stroke-width="0.6"/>
<line x1="368.80" y1="404.26" x2="368.80" y2="410.27" stroke="#222" stroke-width="0.8"/>
<line x1="366.07" y1="404.26" x2="371.53" y2="404.26" stroke="#222" stroke-width="0.8"/>
<line x1="366.07" y1="410.27" x2="371.53" y2="410.27" stroke="#222" stroke-width="0.8"/>
<circle cx="367.60" cy="402.76" r="1.1" fill="#000"/>
<circle cx="370.40" cy="406.66" r="1.1" fill="#000"/>
<circle cx="368.80" cy="411.47" r="1.1" fill="#000"/>
<rect x="376.00" y="399.25" width="13.00" height="41.75" fill="#FF7C7C" stroke="#555" stroke-width="0.6"/>
<line x1="382.50" y1="398.25" x2="382.50" y2="400.25" stroke="#222" stroke-width="0.8"/>
<line x1="379.77" y1="398.25" x2="385.23" y2="398.25" stroke="#222" stroke-width="0.8"/>
<line x1="379.77" y1="400.25" x2="385.23" y2="400.25" stroke="#222" stroke-width="0.8"/>
<circle cx="378.21" cy="398.65" r="1.1" fill="#000"/>
<circle cx="382.50" cy="399.25" r="1.1" fill="#000"/>
<circle cx="386.79" cy="399.85" r="1.1" fill="#000"/>
<rect x="389.70" y="414.28" width="13.00" height="26.72" fill="#08C078" stroke="#555" stroke-width="0.6"/>
<line x1="396.20" y1="412.94" x2="396.20" y2="415.62" stroke="#222" stroke-width="0.8"/>
<line x1="393.47" y1="412.94" x2="398.93" y2="412.94" stroke="#222" stroke-width="0.8"/>
<line x1="393.47" y1="415.62" x2="398.93" y2="415.62" stroke="#222" stroke-width="0.8"/>
<circle cx="391.91" cy="413.48" r="1.1" fill="#000"/>
<circle cx="396.20" cy="414.28" r="1.1" fill="#000"/>
<circle cx="400.49" cy="415.08" r="1.1" fill="#000"/>
<text x="382.50" y="455.30" font-size="9.1" text-anchor="middle" font-weight="bold" fill="#111" stroke="#111" stroke-width="0.2" >ACSL5</text>
<line x1="430.00" y1="441.00" x2="430.00" y2="446.20" stroke="#1a1a1a" stroke-width="1.2"/>
<rect x="409.80" y="406.60" width="13.00" height="34.40" fill="#8888FF" stroke="#555" stroke-width="0.6"/>
<line x1="416.30" y1="399.92" x2="416.30" y2="413.28" stroke="#222" stroke-width="0.8"/>
<line x1="413.57" y1="399.92" x2="419.03" y2="399.92" stroke="#222" stroke-width="0.8"/>
<line x1="413.57" y1="413.28" x2="419.03" y2="413.28" stroke="#222" stroke-width="0.8"/>
<circle cx="415.10" cy="396.58" r="1.1" fill="#000"/>
<circle cx="417.90" cy="405.26" r="1.1" fill="#000"/>
<circle cx="416.30" cy="415.95" r="1.1" fill="#000"/>
<rect x="423.50" y="406.26" width="13.00" height="34.74" fill="#FF7C7C" stroke="#555" stroke-width="0.6"/>
<line x1="430.00" y1="403.59" x2="430.00" y2="408.94" stroke="#222" stroke-width="0.8"/>
<line x1="427.27" y1="403.59" x2="432.73" y2="403.59" stroke="#222" stroke-width="0.8"/>
<line x1="427.27" y1="408.94" x2="432.73" y2="408.94" stroke="#222" stroke-width="0.8"/>
<circle cx="428.80" cy="402.26" r="1.1" fill="#000"/>
<circle cx="431.60" cy="405.73" r="1.1" fill="#000"/>
<circle cx="430.00" cy="410.00" r="1.1" fill="#000"/>
<rect x="437.20" y="428.31" width="13.00" height="12.69" fill="#08C078" stroke="#555" stroke-width="0.6"/>
<line x1="443.70" y1="426.97" x2="443.70" y2="429.64" stroke="#222" stroke-width="0.8"/>
<line x1="440.97" y1="426.97" x2="446.43" y2="426.97" stroke="#222" stroke-width="0.8"/>
<line x1="440.97" y1="429.64" x2="446.43" y2="429.64" stroke="#222" stroke-width="0.8"/>
<circle cx="439.41" cy="427.51" r="1.1" fill="#000"/>
<circle cx="443.70" cy="428.31" r="1.1" fill="#000"/>
<circle cx="447.99" cy="429.11" r="1.1" fill="#000"/>
<text x="430.00" y="455.30" font-size="9.1" text-anchor="middle" font-weight="bold" fill="#111" stroke="#111" stroke-width="0.2" >SLC27A4</text>
<path d="M320.00,339.80 V338.40 Q320.00,337.40 321.00,337.40 H333.60 Q334.60,337.40 334.60,338.40 V339.80" fill="none" stroke="#222" stroke-width="0.85"/>
<path d="M321.95,330.80 L322.71,332.06 L324.14,332.39 L323.17,333.50 L323.30,334.96 L321.95,334.39 L320.60,334.96 L320.73,333.50 L319.76,332.39 L321.19,332.06 Z M327.30,330.80 L328.06,332.06 L329.49,332.39 L328.52,333.50 L328.65,334.96 L327.30,334.39 L325.95,334.96 L326.08,333.50 L325.11,332.39 L326.54,332.06 Z M332.65,330.80 L333.41,332.06 L334.84,332.39 L333.87,333.50 L334.00,334.96 L332.65,334.39 L331.30,334.96 L331.43,333.50 L330.46,332.39 L331.89,332.06 Z" fill="#111"/>
<path d="M336.30,339.80 V338.40 Q336.30,337.40 337.30,337.40 H349.60 Q350.60,337.40 350.60,338.40 V339.80" fill="none" stroke="#222" stroke-width="0.85"/>
<path d="M340.78,330.80 L341.53,332.06 L342.96,332.39 L342.00,333.50 L342.13,334.96 L340.78,334.39 L339.42,334.96 L339.55,333.50 L338.59,332.39 L340.02,332.06 Z M346.13,330.80 L346.88,332.06 L348.31,332.39 L347.35,333.50 L347.48,334.96 L346.13,334.39 L344.77,334.96 L344.90,333.50 L343.94,332.39 L345.37,332.06 Z" fill="#111"/>
<path d="M383.20,392.00 V390.60 Q383.20,389.60 384.20,389.60 H395.90 Q396.90,389.60 396.90,390.60 V392.00" fill="none" stroke="#222" stroke-width="0.85"/>
<path d="M387.37,383.00 L388.13,384.26 L389.56,384.59 L388.60,385.70 L388.73,387.16 L387.37,386.59 L386.02,387.16 L386.15,385.70 L385.19,384.59 L386.62,384.26 Z M392.72,383.00 L393.48,384.26 L394.91,384.59 L393.95,385.70 L394.08,387.16 L392.72,386.59 L391.37,387.16 L391.50,385.70 L390.54,384.59 L391.97,384.26 Z" fill="#111"/>
<path d="M429.20,398.60 V397.20 Q429.20,396.20 430.20,396.20 H442.30 Q443.30,396.20 443.30,397.20 V398.60" fill="none" stroke="#222" stroke-width="0.85"/>
<path d="M436.25,388.45 L437.09,389.84 L438.68,390.21 L437.61,391.44 L437.75,393.06 L436.25,392.43 L434.75,393.06 L434.89,391.44 L433.82,390.21 L435.41,389.84 Z" fill="#111"/>
<text x="485.00" y="307.50" font-size="16" font-weight="bold" fill="#000" stroke="#000" stroke-width="0.45">f</text>
<line x1="538.00" y1="314.30" x2="653.80" y2="314.30" stroke="#555" stroke-width="1.0"/>
<text x="595.60" y="308.90" font-size="9.5" text-anchor="middle" font-weight="bold" fill="#111" stroke="#111" stroke-width="0.2" >Inorganic solute</text>
<text x="506.60" y="391.00" font-size="9" text-anchor="middle" font-weight="bold" fill="#111" stroke="#111" stroke-width="0.22" transform="rotate(-90 506.60 391.00)">Relative mRNA expression/</text>
<text x="518.00" y="391.00" font-size="9" text-anchor="middle" font-weight="bold" fill="#111" stroke="#111" stroke-width="0.22" transform="rotate(-90 518.00 391.00)">Hprt+Rplp0</text>
<line x1="537.10" y1="339.80" x2="537.10" y2="441.80" stroke="#444" stroke-width="1.2"/>
<line x1="537.10" y1="441.20" x2="661.00" y2="441.20" stroke="#1a1a1a" stroke-width="1.2"/>
<line x1="532.60" y1="441.20" x2="537.10" y2="441.20" stroke="#444" stroke-width="1.2"/>
<text x="531.10" y="445.35" font-size="8.2" text-anchor="end" font-weight="bold" fill="#111" stroke="#111" stroke-width="0.2" >0</text>
<line x1="532.60" y1="407.40" x2="537.10" y2="407.40" stroke="#444" stroke-width="1.2"/>
<text x="531.10" y="411.55" font-size="8.2" text-anchor="end" font-weight="bold" fill="#111" stroke="#111" stroke-width="0.2" >2</text>
<line x1="532.60" y1="373.60" x2="537.10" y2="373.60" stroke="#444" stroke-width="1.2"/>
<text x="531.10" y="377.75" font-size="8.2" text-anchor="end" font-weight="bold" fill="#111" stroke="#111" stroke-width="0.2" >4</text>
<line x1="532.60" y1="339.80" x2="537.10" y2="339.80" stroke="#444" stroke-width="1.2"/>
<text x="531.10" y="343.95" font-size="8.2" text-anchor="end" font-weight="bold" fill="#111" stroke="#111" stroke-width="0.2" >6</text>
<line x1="569.70" y1="441.20" x2="569.70" y2="446.40" stroke="#1a1a1a" stroke-width="1.2"/>
<rect x="545.45" y="407.40" width="15.50" height="33.80" fill="#8888FF" stroke="#555" stroke-width="0.6"/>
<line x1="553.20" y1="405.37" x2="553.20" y2="409.43" stroke="#222" stroke-width="0.8"/>
<line x1="549.95" y1="405.37" x2="556.46" y2="405.37" stroke="#222" stroke-width="0.8"/>
<line x1="549.95" y1="409.43" x2="556.46" y2="409.43" stroke="#222" stroke-width="0.8"/>
<circle cx="552.00" cy="404.36" r="1.1" fill="#000"/>
<circle cx="554.80" cy="406.99" r="1.1" fill="#000"/>
<circle cx="553.20" cy="410.24" r="1.1" fill="#000"/>
<rect x="561.95" y="394.22" width="15.50" height="46.98" fill="#FF7C7C" stroke="#555" stroke-width="0.6"/>
<line x1="569.70" y1="390.84" x2="569.70" y2="397.60" stroke="#222" stroke-width="0.8"/>
<line x1="566.45" y1="390.84" x2="572.96" y2="390.84" stroke="#222" stroke-width="0.8"/>
<line x1="566.45" y1="397.60" x2="572.96" y2="397.60" stroke="#222" stroke-width="0.8"/>
<circle cx="568.50" cy="389.15" r="1.1" fill="#000"/>
<circle cx="571.30" cy="393.54" r="1.1" fill="#000"/>
<circle cx="569.70" cy="398.95" r="1.1" fill="#000"/>
<rect x="578.45" y="415.17" width="15.50" height="26.03" fill="#08C078" stroke="#555" stroke-width="0.6"/>
<line x1="586.20" y1="410.10" x2="586.20" y2="420.24" stroke="#222" stroke-width="0.8"/>
<line x1="582.95" y1="410.10" x2="589.46" y2="410.10" stroke="#222" stroke-width="0.8"/>
<line x1="582.95" y1="420.24" x2="589.46" y2="420.24" stroke="#222" stroke-width="0.8"/>
<circle cx="585.00" cy="407.57" r="1.1" fill="#000"/>
<circle cx="587.80" cy="414.16" r="1.1" fill="#000"/>
<circle cx="586.20" cy="422.27" r="1.1" fill="#000"/>
<text x="566.70" y="455.50" font-size="9.1" text-anchor="middle" font-weight="bold" fill="#111" stroke="#111" stroke-width="0.2" >SLC26A3</text>
<line x1="627.60" y1="441.20" x2="627.60" y2="446.40" stroke="#1a1a1a" stroke-width="1.2"/>
<rect x="603.35" y="406.22" width="15.50" height="34.98" fill="#8888FF" stroke="#555" stroke-width="0.6"/>
<line x1="611.10" y1="398.61" x2="611.10" y2="413.82" stroke="#222" stroke-width="0.8"/>
<line x1="607.85" y1="398.61" x2="614.36" y2="398.61" stroke="#222" stroke-width="0.8"/>
<line x1="607.85" y1="413.82" x2="614.36" y2="413.82" stroke="#222" stroke-width="0.8"/>
<circle cx="609.90" cy="394.81" r="1.1" fill="#000"/>
<circle cx="612.70" cy="404.70" r="1.1" fill="#000"/>
<circle cx="611.10" cy="416.86" r="1.1" fill="#000"/>
<rect x="619.85" y="372.25" width="15.50" height="68.95" fill="#FF7C7C" stroke="#555" stroke-width="0.6"/>
<line x1="627.60" y1="367.18" x2="627.60" y2="377.32" stroke="#222" stroke-width="0.8"/>
<line x1="624.35" y1="367.18" x2="630.86" y2="367.18" stroke="#222" stroke-width="0.8"/>
<line x1="624.35" y1="377.32" x2="630.86" y2="377.32" stroke="#222" stroke-width="0.8"/>
<circle cx="626.40" cy="364.64" r="1.1" fill="#000"/>
<circle cx="629.20" cy="371.23" r="1.1" fill="#000"/>
<circle cx="627.60" cy="379.35" r="1.1" fill="#000"/>
<rect x="636.35" y="405.20" width="15.50" height="36.00" fill="#08C078" stroke="#555" stroke-width="0.6"/>
<line x1="644.10" y1="401.82" x2="644.10" y2="408.58" stroke="#222" stroke-width="0.8"/>
<line x1="640.85" y1="401.82" x2="647.36" y2="401.82" stroke="#222" stroke-width="0.8"/>
<line x1="640.85" y1="408.58" x2="647.36" y2="408.58" stroke="#222" stroke-width="0.8"/>
<circle cx="642.90" cy="400.13" r="1.1" fill="#000"/>
<circle cx="645.70" cy="404.53" r="1.1" fill="#000"/>
<circle cx="644.10" cy="409.94" r="1.1" fill="#000"/>
<text x="627.60" y="455.50" font-size="9.1" text-anchor="middle" font-weight="bold" fill="#111" stroke="#111" stroke-width="0.2" >SLC12A2</text>
<path d="M569.20,381.60 V380.20 Q569.20,379.20 570.20,379.20 H585.30 Q586.30,379.20 586.30,380.20 V381.60" fill="none" stroke="#222" stroke-width="0.85"/>
<path d="M577.75,371.45 L578.59,372.84 L580.18,373.21 L579.11,374.44 L579.25,376.06 L577.75,375.43 L576.25,376.06 L576.39,374.44 L575.32,373.21 L576.91,372.84 Z" fill="#111"/>
<path d="M610.50,358.70 V357.30 Q610.50,356.30 611.50,356.30 H626.30 Q627.30,356.30 627.30,357.30 V358.70" fill="none" stroke="#222" stroke-width="0.85"/>
<path d="M616.23,349.70 L616.98,350.96 L618.41,351.29 L617.45,352.40 L617.58,353.86 L616.23,353.29 L614.87,353.86 L615.00,352.40 L614.04,351.29 L615.47,350.96 Z M621.58,349.70 L622.33,350.96 L623.76,351.29 L622.80,352.40 L622.93,353.86 L621.58,353.29 L620.22,353.86 L620.35,352.40 L619.39,351.29 L620.82,350.96 Z" fill="#111"/>
<path d="M631.40,358.70 V357.30 Q631.40,356.30 632.40,356.30 H646.80 Q647.80,356.30 647.80,357.30 V358.70" fill="none" stroke="#222" stroke-width="0.85"/>
<path d="M636.92,349.70 L637.68,350.96 L639.11,351.29 L638.15,352.40 L638.28,353.86 L636.92,353.29 L635.57,353.86 L635.70,352.40 L634.74,351.29 L636.17,350.96 Z M642.27,349.70 L643.03,350.96 L644.46,351.29 L643.50,352.40 L643.63,353.86 L642.27,353.29 L640.92,353.86 L641.05,352.40 L640.09,351.29 L641.52,350.96 Z" fill="#111"/>
<text x="0.00" y="492.00" font-size="16" font-weight="bold" fill="#000" stroke="#000" stroke-width="0.45">g</text>
<line x1="70.00" y1="495.70" x2="229.20" y2="495.70" stroke="#555" stroke-width="1.0"/>
<text x="149.60" y="487.60" font-size="9.1" text-anchor="middle" font-weight="bold" fill="#111" stroke="#111" stroke-width="0.2" >Amino acid transport</text>
<text x="24.90" y="572.00" font-size="9" text-anchor="middle" font-weight="bold" fill="#111" stroke="#111" stroke-width="0.22" transform="rotate(-90 24.90 572.00)">Relative mRNA expression/</text>
<text x="37.00" y="572.00" font-size="9" text-anchor="middle" font-weight="bold" fill="#111" stroke="#111" stroke-width="0.22" transform="rotate(-90 37.00 572.00)">Hprt+Rplp0</text>
<line x1="59.70" y1="518.60" x2="59.70" y2="621.60" stroke="#444" stroke-width="1.2"/>
<line x1="59.70" y1="621.00" x2="242.00" y2="621.00" stroke="#1a1a1a" stroke-width="1.2"/>
<line x1="55.20" y1="621.00" x2="59.70" y2="621.00" stroke="#444" stroke-width="1.2"/>
<text x="53.70" y="625.15" font-size="8.2" text-anchor="end" font-weight="bold" fill="#111" stroke="#111" stroke-width="0.2" >0</text>
<line x1="55.20" y1="595.40" x2="59.70" y2="595.40" stroke="#444" stroke-width="1.2"/>
<text x="53.70" y="599.55" font-size="8.2" text-anchor="end" font-weight="bold" fill="#111" stroke="#111" stroke-width="0.2" >1</text>
<line x1="55.20" y1="569.80" x2="59.70" y2="569.80" stroke="#444" stroke-width="1.2"/>
<text x="53.70" y="573.95" font-size="8.2" text-anchor="end" font-weight="bold" fill="#111" stroke="#111" stroke-width="0.2" >2</text>
<line x1="55.20" y1="544.20" x2="59.70" y2="544.20" stroke="#444" stroke-width="1.2"/>
<text x="53.70" y="548.35" font-size="8.2" text-anchor="end" font-weight="bold" fill="#111" stroke="#111" stroke-width="0.2" >3</text>
<line x1="55.20" y1="518.60" x2="59.70" y2="518.60" stroke="#444" stroke-width="1.2"/>
<text x="53.70" y="522.75" font-size="8.2" text-anchor="end" font-weight="bold" fill="#111" stroke="#111" stroke-width="0.2" >4</text>
<line x1="84.20" y1="621.00" x2="84.20" y2="626.20" stroke="#1a1a1a" stroke-width="1.2"/>
<rect x="65.50" y="595.40" width="12.00" height="25.60" fill="#8888FF" stroke="#555" stroke-width="0.6"/>
<line x1="71.50" y1="594.12" x2="71.50" y2="596.68" stroke="#222" stroke-width="0.8"/>
<line x1="68.98" y1="594.12" x2="74.02" y2="594.12" stroke="#222" stroke-width="0.8"/>
<line x1="68.98" y1="596.68" x2="74.02" y2="596.68" stroke="#222" stroke-width="0.8"/>
<circle cx="67.54" cy="594.63" r="1.1" fill="#000"/>
<circle cx="71.50" cy="595.40" r="1.1" fill="#000"/>
<circle cx="75.46" cy="596.17" r="1.1" fill="#000"/>
<rect x="78.20" y="565.96" width="12.00" height="55.04" fill="#FF7C7C" stroke="#555" stroke-width="0.6"/>
<line x1="84.20" y1="562.89" x2="84.20" y2="569.03" stroke="#222" stroke-width="0.8"/>
<line x1="81.68" y1="562.89" x2="86.72" y2="562.89" stroke="#222" stroke-width="0.8"/>
<line x1="81.68" y1="569.03" x2="86.72" y2="569.03" stroke="#222" stroke-width="0.8"/>
<circle cx="83.00" cy="561.35" r="1.1" fill="#000"/>
<circle cx="85.80" cy="565.35" r="1.1" fill="#000"/>
<circle cx="84.20" cy="570.26" r="1.1" fill="#000"/>
<rect x="90.90" y="576.46" width="12.00" height="44.54" fill="#08C078" stroke="#555" stroke-width="0.6"/>
<line x1="96.90" y1="573.38" x2="96.90" y2="579.53" stroke="#222" stroke-width="0.8"/>
<line x1="94.38" y1="573.38" x2="99.42" y2="573.38" stroke="#222" stroke-width="0.8"/>
<line x1="94.38" y1="579.53" x2="99.42" y2="579.53" stroke="#222" stroke-width="0.8"/>
<circle cx="95.70" cy="571.85" r="1.1" fill="#000"/>
<circle cx="98.50" cy="575.84" r="1.1" fill="#000"/>
<circle cx="96.90" cy="580.76" r="1.1" fill="#000"/>
<text x="82.70" y="636.70" font-size="9.1" text-anchor="middle" font-weight="bold" fill="#111" stroke="#111" stroke-width="0.2" >SLC6A19</text>
<line x1="128.00" y1="621.00" x2="128.00" y2="626.20" stroke="#1a1a1a" stroke-width="1.2"/>
<rect x="109.30" y="595.40" width="12.00" height="25.60" fill="#8888FF" stroke="#555" stroke-width="0.6"/>
<line x1="115.30" y1="594.38" x2="115.30" y2="596.42" stroke="#222" stroke-width="0.8"/>
<line x1="112.78" y1="594.38" x2="117.82" y2="594.38" stroke="#222" stroke-width="0.8"/>
<line x1="112.78" y1="596.42" x2="117.82" y2="596.42" stroke="#222" stroke-width="0.8"/>
<circle cx="111.34" cy="594.79" r="1.1" fill="#000"/>
<circle cx="115.30" cy="595.40" r="1.1" fill="#000"/>
<circle cx="119.26" cy="596.01" r="1.1" fill="#000"/>
<rect x="122.00" y="592.33" width="12.00" height="28.67" fill="#FF7C7C" stroke="#555" stroke-width="0.6"/>
<line x1="128.00" y1="589.77" x2="128.00" y2="594.89" stroke="#222" stroke-width="0.8"/>
<line x1="125.48" y1="589.77" x2="130.52" y2="589.77" stroke="#222" stroke-width="0.8"/>
<line x1="125.48" y1="594.89" x2="130.52" y2="594.89" stroke="#222" stroke-width="0.8"/>
<circle cx="126.80" cy="588.49" r="1.1" fill="#000"/>
<circle cx="129.60" cy="591.82" r="1.1" fill="#000"/>
<circle cx="128.00" cy="595.91" r="1.1" fill="#000"/>
<rect x="134.70" y="601.03" width="12.00" height="19.97" fill="#08C078" stroke="#555" stroke-width="0.6"/>
<line x1="140.70" y1="598.47" x2="140.70" y2="603.59" stroke="#222" stroke-width="0.8"/>
<line x1="138.18" y1="598.47" x2="143.22" y2="598.47" stroke="#222" stroke-width="0.8"/>
<line x1="138.18" y1="603.59" x2="143.22" y2="603.59" stroke="#222" stroke-width="0.8"/>
<circle cx="139.50" cy="597.19" r="1.1" fill="#000"/>
<circle cx="142.30" cy="600.52" r="1.1" fill="#000"/>
<circle cx="140.70" cy="604.62" r="1.1" fill="#000"/>
<text x="127.00" y="636.70" font-size="9.1" text-anchor="middle" font-weight="bold" fill="#111" stroke="#111" stroke-width="0.2" >SLC6A6</text>
<line x1="172.00" y1="621.00" x2="172.00" y2="626.20" stroke="#1a1a1a" stroke-width="1.2"/>
<rect x="153.30" y="596.17" width="12.00" height="24.83" fill="#8888FF" stroke="#555" stroke-width="0.6"/>
<line x1="159.30" y1="593.61" x2="159.30" y2="598.73" stroke="#222" stroke-width="0.8"/>
<line x1="156.78" y1="593.61" x2="161.82" y2="593.61" stroke="#222" stroke-width="0.8"/>
<line x1="156.78" y1="598.73" x2="161.82" y2="598.73" stroke="#222" stroke-width="0.8"/>
<circle cx="158.10" cy="592.33" r="1.1" fill="#000"/>
<circle cx="160.90" cy="595.66" r="1.1" fill="#000"/>
<circle cx="159.30" cy="599.75" r="1.1" fill="#000"/>
<rect x="166.00" y="589.51" width="12.00" height="31.49" fill="#FF7C7C" stroke="#555" stroke-width="0.6"/>
<line x1="172.00" y1="588.23" x2="172.00" y2="590.79" stroke="#222" stroke-width="0.8"/>
<line x1="169.48" y1="588.23" x2="174.52" y2="588.23" stroke="#222" stroke-width="0.8"/>
<line x1="169.48" y1="590.79" x2="174.52" y2="590.79" stroke="#222" stroke-width="0.8"/>
<circle cx="168.04" cy="588.74" r="1.1" fill="#000"/>
<circle cx="172.00" cy="589.51" r="1.1" fill="#000"/>
<circle cx="175.96" cy="590.28" r="1.1" fill="#000"/>
<rect x="178.70" y="612.30" width="12.00" height="8.70" fill="#08C078" stroke="#555" stroke-width="0.6"/>
<line x1="184.70" y1="611.53" x2="184.70" y2="613.06" stroke="#222" stroke-width="0.8"/>
<line x1="182.18" y1="611.53" x2="187.22" y2="611.53" stroke="#222" stroke-width="0.8"/>
<line x1="182.18" y1="613.06" x2="187.22" y2="613.06" stroke="#222" stroke-width="0.8"/>
<circle cx="180.74" cy="611.84" r="1.1" fill="#000"/>
<circle cx="184.70" cy="612.30" r="1.1" fill="#000"/>
<circle cx="188.66" cy="612.76" r="1.1" fill="#000"/>
<text x="171.50" y="636.70" font-size="9.1" text-anchor="middle" font-weight="bold" fill="#111" stroke="#111" stroke-width="0.2" >SLC25A12</text>
<line x1="215.80" y1="621.00" x2="215.80" y2="626.20" stroke="#1a1a1a" stroke-width="1.2"/>
<rect x="197.10" y="594.12" width="12.00" height="26.88" fill="#8888FF" stroke="#555" stroke-width="0.6"/>
<line x1="203.10" y1="589.00" x2="203.10" y2="599.24" stroke="#222" stroke-width="0.8"/>
<line x1="200.58" y1="589.00" x2="205.62" y2="589.00" stroke="#222" stroke-width="0.8"/>
<line x1="200.58" y1="599.24" x2="205.62" y2="599.24" stroke="#222" stroke-width="0.8"/>
<circle cx="201.90" cy="586.44" r="1.1" fill="#000"/>
<circle cx="204.70" cy="593.10" r="1.1" fill="#000"/>
<circle cx="203.10" cy="601.29" r="1.1" fill="#000"/>
<rect x="209.80" y="553.16" width="12.00" height="67.84" fill="#FF7C7C" stroke="#555" stroke-width="0.6"/>
<line x1="215.80" y1="544.97" x2="215.80" y2="561.35" stroke="#222" stroke-width="0.8"/>
<line x1="213.28" y1="544.97" x2="218.32" y2="544.97" stroke="#222" stroke-width="0.8"/>
<line x1="213.28" y1="561.35" x2="218.32" y2="561.35" stroke="#222" stroke-width="0.8"/>
<circle cx="214.60" cy="540.87" r="1.1" fill="#000"/>
<circle cx="217.40" cy="551.52" r="1.1" fill="#000"/>
<circle cx="215.80" cy="564.63" r="1.1" fill="#000"/>
<rect x="222.50" y="602.31" width="12.00" height="18.69" fill="#08C078" stroke="#555" stroke-width="0.6"/>
<line x1="228.50" y1="600.26" x2="228.50" y2="604.36" stroke="#222" stroke-width="0.8"/>
<line x1="225.98" y1="600.26" x2="231.02" y2="600.26" stroke="#222" stroke-width="0.8"/>
<line x1="225.98" y1="604.36" x2="231.02" y2="604.36" stroke="#222" stroke-width="0.8"/>
<circle cx="227.30" cy="599.24" r="1.1" fill="#000"/>
<circle cx="230.10" cy="601.90" r="1.1" fill="#000"/>
<circle cx="228.50" cy="605.18" r="1.1" fill="#000"/>
<text x="217.20" y="636.70" font-size="9.1" text-anchor="middle" font-weight="bold" fill="#111" stroke="#111" stroke-width="0.2" >SLC1A1</text>
<path d="M70.20,555.80 V554.40 Q70.20,553.40 71.20,553.40 H84.50 Q85.50,553.40 85.50,554.40 V555.80" fill="none" stroke="#222" stroke-width="0.85"/>
<path d="M72.50,546.80 L73.26,548.06 L74.69,548.39 L73.72,549.50 L73.85,550.96 L72.50,550.39 L71.15,550.96 L71.28,549.50 L70.31,548.39 L71.74,548.06 Z M77.85,546.80 L78.61,548.06 L80.04,548.39 L79.07,549.50 L79.20,550.96 L77.85,550.39 L76.50,550.96 L76.63,549.50 L75.66,548.39 L77.09,548.06 Z M83.20,546.80 L83.96,548.06 L85.39,548.39 L84.42,549.50 L84.55,550.96 L83.20,550.39 L81.85,550.96 L81.98,549.50 L81.01,548.39 L82.44,548.06 Z" fill="#111"/>
<path d="M128.40,584.90 V583.50 Q128.40,582.50 129.40,582.50 H140.00 Q141.00,582.50 141.00,583.50 V584.90" fill="none" stroke="#222" stroke-width="0.85"/>
<path d="M134.70,574.75 L135.54,576.14 L137.13,576.51 L136.06,577.74 L136.20,579.36 L134.70,578.73 L133.20,579.36 L133.34,577.74 L132.27,576.51 L133.86,576.14 Z" fill="#111"/>
<path d="M171.00,582.60 V581.20 Q171.00,580.20 172.00,580.20 H182.80 Q183.80,580.20 183.80,581.20 V582.60" fill="none" stroke="#222" stroke-width="0.85"/>
<path d="M172.05,573.60 L172.81,574.86 L174.24,575.19 L173.27,576.30 L173.40,577.76 L172.05,577.19 L170.70,577.76 L170.83,576.30 L169.86,575.19 L171.29,574.86 Z M177.40,573.60 L178.16,574.86 L179.59,575.19 L178.62,576.30 L178.75,577.76 L177.40,577.19 L176.05,577.76 L176.18,576.30 L175.21,575.19 L176.64,574.86 Z M182.75,573.60 L183.51,574.86 L184.94,575.19 L183.97,576.30 L184.10,577.76 L182.75,577.19 L181.40,577.76 L181.53,576.30 L180.56,575.19 L181.99,574.86 Z" fill="#111"/>
<path d="M202.50,533.90 V532.50 Q202.50,531.50 203.50,531.50 H214.20 Q215.20,531.50 215.20,532.50 V533.90" fill="none" stroke="#222" stroke-width="0.85"/>
<path d="M206.17,524.90 L206.93,526.16 L208.36,526.49 L207.40,527.60 L207.53,529.06 L206.17,528.49 L204.82,529.06 L204.95,527.60 L203.99,526.49 L205.42,526.16 Z M211.52,524.90 L212.28,526.16 L213.71,526.49 L212.75,527.60 L212.88,529.06 L211.52,528.49 L210.17,529.06 L210.30,527.60 L209.34,526.49 L210.77,526.16 Z" fill="#111"/>
<path d="M217.30,533.90 V532.50 Q217.30,531.50 218.30,531.50 H229.10 Q230.10,531.50 230.10,532.50 V533.90" fill="none" stroke="#222" stroke-width="0.85"/>
<path d="M221.02,524.90 L221.78,526.16 L223.21,526.49 L222.25,527.60 L222.38,529.06 L221.02,528.49 L219.67,529.06 L219.80,527.60 L218.84,526.49 L220.27,526.16 Z M226.37,524.90 L227.13,526.16 L228.56,526.49 L227.60,527.60 L227.73,529.06 L226.37,528.49 L225.02,529.06 L225.15,527.60 L224.19,526.49 L225.62,526.16 Z" fill="#111"/>
<text x="257.00" y="492.60" font-size="16" font-weight="bold" fill="#000" stroke="#000" stroke-width="0.45">h</text>
<line x1="317.30" y1="495.80" x2="433.00" y2="495.80" stroke="#555" stroke-width="1.0"/>
<text x="375.15" y="487.30" font-size="9.1" text-anchor="middle" font-weight="bold" fill="#111" stroke="#111" stroke-width="0.2" >Cell junction</text>
<text x="276.30" y="574.00" font-size="9" text-anchor="middle" font-weight="bold" fill="#111" stroke="#111" stroke-width="0.22" transform="rotate(-90 276.30 574.00)">Relative mRNA expression/</text>
<text x="287.80" y="574.00" font-size="9" text-anchor="middle" font-weight="bold" fill="#111" stroke="#111" stroke-width="0.22" transform="rotate(-90 287.80 574.00)">Hprt+Rplp0</text>
<line x1="312.60" y1="519.60" x2="312.60" y2="621.30" stroke="#444" stroke-width="1.2"/>
<line x1="312.60" y1="620.70" x2="435.60" y2="620.70" stroke="#1a1a1a" stroke-width="1.2"/>
<line x1="308.10" y1="620.70" x2="312.60" y2="620.70" stroke="#444" stroke-width="1.2"/>
<text x="306.60" y="624.85" font-size="8.2" text-anchor="end" font-weight="bold" fill="#111" stroke="#111" stroke-width="0.2" >0</text>
<line x1="308.10" y1="587.00" x2="312.60" y2="587.00" stroke="#444" stroke-width="1.2"/>
<text x="306.60" y="591.15" font-size="8.2" text-anchor="end" font-weight="bold" fill="#111" stroke="#111" stroke-width="0.2" >1</text>
<line x1="308.10" y1="553.30" x2="312.60" y2="553.30" stroke="#444" stroke-width="1.2"/>
<text x="306.60" y="557.45" font-size="8.2" text-anchor="end" font-weight="bold" fill="#111" stroke="#111" stroke-width="0.2" >2</text>
<line x1="308.10" y1="519.60" x2="312.60" y2="519.60" stroke="#444" stroke-width="1.2"/>
<text x="306.60" y="523.75" font-size="8.2" text-anchor="end" font-weight="bold" fill="#111" stroke="#111" stroke-width="0.2" >3</text>
<line x1="345.00" y1="620.70" x2="345.00" y2="625.90" stroke="#1a1a1a" stroke-width="1.2"/>
<rect x="320.95" y="586.33" width="15.50" height="34.37" fill="#8888FF" stroke="#555" stroke-width="0.6"/>
<line x1="328.70" y1="581.27" x2="328.70" y2="591.38" stroke="#222" stroke-width="0.8"/>
<line x1="325.44" y1="581.27" x2="331.95" y2="581.27" stroke="#222" stroke-width="0.8"/>
<line x1="325.44" y1="591.38" x2="331.95" y2="591.38" stroke="#222" stroke-width="0.8"/>
<circle cx="327.50" cy="578.74" r="1.1" fill="#000"/>
<circle cx="330.30" cy="585.32" r="1.1" fill="#000"/>
<circle cx="328.70" cy="593.40" r="1.1" fill="#000"/>
<rect x="337.25" y="543.19" width="15.50" height="77.51" fill="#FF7C7C" stroke="#555" stroke-width="0.6"/>
<line x1="345.00" y1="535.78" x2="345.00" y2="550.60" stroke="#222" stroke-width="0.8"/>
<line x1="341.75" y1="535.78" x2="348.25" y2="535.78" stroke="#222" stroke-width="0.8"/>
<line x1="341.75" y1="550.60" x2="348.25" y2="550.60" stroke="#222" stroke-width="0.8"/>
<circle cx="343.80" cy="532.07" r="1.1" fill="#000"/>
<circle cx="346.60" cy="541.71" r="1.1" fill="#000"/>
<circle cx="345.00" cy="553.57" r="1.1" fill="#000"/>
<rect x="353.55" y="596.77" width="15.50" height="23.93" fill="#08C078" stroke="#555" stroke-width="0.6"/>
<line x1="361.30" y1="593.40" x2="361.30" y2="600.14" stroke="#222" stroke-width="0.8"/>
<line x1="358.05" y1="593.40" x2="364.56" y2="593.40" stroke="#222" stroke-width="0.8"/>
<line x1="358.05" y1="600.14" x2="364.56" y2="600.14" stroke="#222" stroke-width="0.8"/>
<circle cx="360.10" cy="591.72" r="1.1" fill="#000"/>
<circle cx="362.90" cy="596.10" r="1.1" fill="#000"/>
<circle cx="361.30" cy="601.49" r="1.1" fill="#000"/>
<text x="349.00" y="636.50" font-size="9.1" text-anchor="middle" font-weight="bold" fill="#111" stroke="#111" stroke-width="0.2" >CLDN1</text>
<line x1="402.50" y1="620.70" x2="402.50" y2="625.90" stroke="#1a1a1a" stroke-width="1.2"/>
<rect x="378.45" y="587.00" width="15.50" height="33.70" fill="#8888FF" stroke="#555" stroke-width="0.6"/>
<line x1="386.20" y1="584.64" x2="386.20" y2="589.36" stroke="#222" stroke-width="0.8"/>
<line x1="382.94" y1="584.64" x2="389.45" y2="584.64" stroke="#222" stroke-width="0.8"/>
<line x1="382.94" y1="589.36" x2="389.45" y2="589.36" stroke="#222" stroke-width="0.8"/>
<circle cx="385.00" cy="583.46" r="1.1" fill="#000"/>
<circle cx="387.80" cy="586.53" r="1.1" fill="#000"/>
<circle cx="386.20" cy="590.30" r="1.1" fill="#000"/>
<rect x="394.75" y="577.23" width="15.50" height="43.47" fill="#FF7C7C" stroke="#555" stroke-width="0.6"/>
<line x1="402.50" y1="574.53" x2="402.50" y2="579.92" stroke="#222" stroke-width="0.8"/>
<line x1="399.25" y1="574.53" x2="405.75" y2="574.53" stroke="#222" stroke-width="0.8"/>
<line x1="399.25" y1="579.92" x2="405.75" y2="579.92" stroke="#222" stroke-width="0.8"/>
<circle cx="401.30" cy="573.18" r="1.1" fill="#000"/>
<circle cx="404.10" cy="576.69" r="1.1" fill="#000"/>
<circle cx="402.50" cy="581.00" r="1.1" fill="#000"/>
<rect x="411.05" y="593.40" width="15.50" height="27.30" fill="#08C078" stroke="#555" stroke-width="0.6"/>
<line x1="418.80" y1="591.72" x2="418.80" y2="595.09" stroke="#222" stroke-width="0.8"/>
<line x1="415.55" y1="591.72" x2="422.06" y2="591.72" stroke="#222" stroke-width="0.8"/>
<line x1="415.55" y1="595.09" x2="422.06" y2="595.09" stroke="#222" stroke-width="0.8"/>
<circle cx="417.60" cy="590.88" r="1.1" fill="#000"/>
<circle cx="420.40" cy="593.07" r="1.1" fill="#000"/>
<circle cx="418.80" cy="595.76" r="1.1" fill="#000"/>
<text x="406.50" y="636.50" font-size="9.1" text-anchor="middle" font-weight="bold" fill="#111" stroke="#111" stroke-width="0.2" >ZO-1</text>
<path d="M327.40,528.00 V526.60 Q327.40,525.60 328.40,525.60 H343.20 Q344.20,525.60 344.20,526.60 V528.00" fill="none" stroke="#222" stroke-width="0.85"/>
<path d="M333.12,519.00 L333.88,520.26 L335.31,520.59 L334.35,521.70 L334.48,523.16 L333.12,522.59 L331.77,523.16 L331.90,521.70 L330.94,520.59 L332.37,520.26 Z M338.47,519.00 L339.23,520.26 L340.66,520.59 L339.70,521.70 L339.83,523.16 L338.47,522.59 L337.12,523.16 L337.25,521.70 L336.29,520.59 L337.72,520.26 Z" fill="#111"/>
<path d="M346.30,528.00 V526.60 Q346.30,525.60 347.30,525.60 H361.40 Q362.40,525.60 362.40,526.60 V528.00" fill="none" stroke="#222" stroke-width="0.85"/>
<path d="M349.00,519.00 L349.76,520.26 L351.19,520.59 L350.22,521.70 L350.35,523.16 L349.00,522.59 L347.65,523.16 L347.78,521.70 L346.81,520.59 L348.24,520.26 Z M354.35,519.00 L355.11,520.26 L356.54,520.59 L355.57,521.70 L355.70,523.16 L354.35,522.59 L353.00,523.16 L353.13,521.70 L352.16,520.59 L353.59,520.26 Z M359.70,519.00 L360.46,520.26 L361.89,520.59 L360.92,521.70 L361.05,523.16 L359.70,522.59 L358.35,523.16 L358.48,521.70 L357.51,520.59 L358.94,520.26 Z" fill="#111"/>
<path d="M402.50,565.80 V564.40 Q402.50,563.40 403.50,563.40 H417.60 Q418.60,563.40 418.60,564.40 V565.80" fill="none" stroke="#222" stroke-width="0.85"/>
<path d="M407.88,556.80 L408.63,558.06 L410.06,558.39 L409.10,559.50 L409.23,560.96 L407.88,560.39 L406.52,560.96 L406.65,559.50 L405.69,558.39 L407.12,558.06 Z M413.23,556.80 L413.98,558.06 L415.41,558.39 L414.45,559.50 L414.58,560.96 L413.23,560.39 L411.87,560.96 L412.00,559.50 L411.04,558.39 L412.47,558.06 Z" fill="#111"/>
<text x="3.80" y="672.60" font-size="16" font-weight="bold" fill="#000" stroke="#000" stroke-width="0.45">i</text>
<line x1="59.10" y1="682.00" x2="228.00" y2="682.00" stroke="#555" stroke-width="1.0"/>
<text x="145.80" y="675.70" font-size="9.1" text-anchor="middle" font-weight="bold" fill="#111" stroke="#111" stroke-width="0.2" >Adult enterocyte gene</text>
<text x="19.80" y="747.00" font-size="9" text-anchor="middle" font-weight="bold" fill="#111" stroke="#111" stroke-width="0.22" transform="rotate(-90 19.80 747.00)">Relative mRNA expression/</text>
<text x="32.00" y="747.00" font-size="9" text-anchor="middle" font-weight="bold" fill="#111" stroke="#111" stroke-width="0.22" transform="rotate(-90 32.00 747.00)">Hprt+Rplp0</text>
<line x1="51.80" y1="694.20" x2="51.80" y2="789.20" stroke="#444" stroke-width="1.2"/>
<line x1="51.80" y1="788.60" x2="249.00" y2="788.60" stroke="#1a1a1a" stroke-width="1.2"/>
<line x1="47.30" y1="788.60" x2="51.80" y2="788.60" stroke="#444" stroke-width="1.2"/>
<text x="45.80" y="792.75" font-size="8.2" text-anchor="end" font-weight="bold" fill="#111" stroke="#111" stroke-width="0.2" >0</text>
<line x1="47.30" y1="765.00" x2="51.80" y2="765.00" stroke="#444" stroke-width="1.2"/>
<text x="45.80" y="769.15" font-size="8.2" text-anchor="end" font-weight="bold" fill="#111" stroke="#111" stroke-width="0.2" >1</text>
<line x1="47.30" y1="741.40" x2="51.80" y2="741.40" stroke="#444" stroke-width="1.2"/>
<text x="45.80" y="745.55" font-size="8.2" text-anchor="end" font-weight="bold" fill="#111" stroke="#111" stroke-width="0.2" >2</text>
<line x1="47.30" y1="717.80" x2="51.80" y2="717.80" stroke="#444" stroke-width="1.2"/>
<text x="45.80" y="721.95" font-size="8.2" text-anchor="end" font-weight="bold" fill="#111" stroke="#111" stroke-width="0.2" >3</text>
<line x1="47.30" y1="694.20" x2="51.80" y2="694.20" stroke="#444" stroke-width="1.2"/>
<text x="45.80" y="698.35" font-size="8.2" text-anchor="end" font-weight="bold" fill="#111" stroke="#111" stroke-width="0.2" >4</text>
<line x1="74.00" y1="788.60" x2="74.00" y2="793.80" stroke="#1a1a1a" stroke-width="1.2"/>
<rect x="59.15" y="765.00" width="14.40" height="23.60" fill="#000" stroke="#555" stroke-width="0.6"/>
<line x1="66.35" y1="762.17" x2="66.35" y2="767.83" stroke="#222" stroke-width="0.8"/>
<line x1="63.33" y1="762.17" x2="69.37" y2="762.17" stroke="#222" stroke-width="0.8"/>
<line x1="63.33" y1="767.83" x2="69.37" y2="767.83" stroke="#222" stroke-width="0.8"/>
<circle cx="65.15" cy="760.75" r="1.1" fill="#000"/>
<circle cx="67.95" cy="764.43" r="1.1" fill="#000"/>
<circle cx="66.35" cy="768.96" r="1.1" fill="#000"/>
<rect x="74.45" y="724.17" width="14.40" height="64.43" fill="#56A0F8" stroke="#555" stroke-width="0.6"/>
<line x1="81.65" y1="714.02" x2="81.65" y2="734.32" stroke="#222" stroke-width="0.8"/>
<line x1="78.63" y1="714.02" x2="84.67" y2="714.02" stroke="#222" stroke-width="0.8"/>
<line x1="78.63" y1="734.32" x2="84.67" y2="734.32" stroke="#222" stroke-width="0.8"/>
<circle cx="80.45" cy="708.95" r="1.1" fill="#000"/>
<circle cx="83.25" cy="722.14" r="1.1" fill="#000"/>
<circle cx="81.65" cy="738.38" r="1.1" fill="#000"/>
<text x="74.00" y="805.10" font-size="9.1" text-anchor="middle" font-weight="bold" fill="#111" stroke="#111" stroke-width="0.2" >TM4SF20</text>
<line x1="111.70" y1="788.60" x2="111.70" y2="793.80" stroke="#1a1a1a" stroke-width="1.2"/>
<rect x="96.85" y="763.35" width="14.40" height="25.25" fill="#000" stroke="#555" stroke-width="0.6"/>
<line x1="104.05" y1="756.27" x2="104.05" y2="770.43" stroke="#222" stroke-width="0.8"/>
<line x1="101.03" y1="756.27" x2="107.07" y2="756.27" stroke="#222" stroke-width="0.8"/>
<line x1="101.03" y1="770.43" x2="107.07" y2="770.43" stroke="#222" stroke-width="0.8"/>
<circle cx="102.85" cy="752.73" r="1.1" fill="#000"/>
<circle cx="105.65" cy="761.93" r="1.1" fill="#000"/>
<circle cx="104.05" cy="773.26" r="1.1" fill="#000"/>
<rect x="112.15" y="746.59" width="14.40" height="42.01" fill="#56A0F8" stroke="#555" stroke-width="0.6"/>
<line x1="119.35" y1="739.51" x2="119.35" y2="753.67" stroke="#222" stroke-width="0.8"/>
<line x1="116.33" y1="739.51" x2="122.37" y2="739.51" stroke="#222" stroke-width="0.8"/>
<line x1="116.33" y1="753.67" x2="122.37" y2="753.67" stroke="#222" stroke-width="0.8"/>
<circle cx="118.15" cy="735.97" r="1.1" fill="#000"/>
<circle cx="120.95" cy="745.18" r="1.1" fill="#000"/>
<circle cx="119.35" cy="756.50" r="1.1" fill="#000"/>
<text x="111.70" y="805.10" font-size="9.1" text-anchor="middle" font-weight="bold" fill="#111" stroke="#111" stroke-width="0.2" >THSD4</text>
<line x1="149.50" y1="788.60" x2="149.50" y2="793.80" stroke="#1a1a1a" stroke-width="1.2"/>
<rect x="134.65" y="765.00" width="14.40" height="23.60" fill="#000" stroke="#555" stroke-width="0.6"/>
<line x1="141.85" y1="762.64" x2="141.85" y2="767.36" stroke="#222" stroke-width="0.8"/>
<line x1="138.83" y1="762.64" x2="144.87" y2="762.64" stroke="#222" stroke-width="0.8"/>
<line x1="138.83" y1="767.36" x2="144.87" y2="767.36" stroke="#222" stroke-width="0.8"/>
<circle cx="140.65" cy="761.46" r="1.1" fill="#000"/>
<circle cx="143.45" cy="764.53" r="1.1" fill="#000"/>
<circle cx="141.85" cy="768.30" r="1.1" fill="#000"/>
<rect x="149.95" y="718.27" width="14.40" height="70.33" fill="#56A0F8" stroke="#555" stroke-width="0.6"/>
<line x1="157.15" y1="717.09" x2="157.15" y2="719.45" stroke="#222" stroke-width="0.8"/>
<line x1="154.13" y1="717.09" x2="160.17" y2="717.09" stroke="#222" stroke-width="0.8"/>
<line x1="154.13" y1="719.45" x2="160.17" y2="719.45" stroke="#222" stroke-width="0.8"/>
<circle cx="152.40" cy="717.56" r="1.1" fill="#000"/>
<circle cx="157.15" cy="718.27" r="1.1" fill="#000"/>
<circle cx="161.90" cy="718.98" r="1.1" fill="#000"/>
<text x="149.50" y="805.10" font-size="9.1" text-anchor="middle" font-weight="bold" fill="#111" stroke="#111" stroke-width="0.2" >SLC46A1</text>
<line x1="187.30" y1="788.60" x2="187.30" y2="793.80" stroke="#1a1a1a" stroke-width="1.2"/>
<rect x="172.45" y="764.29" width="14.40" height="24.31" fill="#000" stroke="#555" stroke-width="0.6"/>
<line x1="179.65" y1="760.75" x2="179.65" y2="767.83" stroke="#222" stroke-width="0.8"/>
<line x1="176.63" y1="760.75" x2="182.67" y2="760.75" stroke="#222" stroke-width="0.8"/>
<line x1="176.63" y1="767.83" x2="182.67" y2="767.83" stroke="#222" stroke-width="0.8"/>
<circle cx="178.45" cy="758.98" r="1.1" fill="#000"/>
<circle cx="181.25" cy="763.58" r="1.1" fill="#000"/>
<circle cx="179.65" cy="769.25" r="1.1" fill="#000"/>
<rect x="187.75" y="735.50" width="14.40" height="53.10" fill="#56A0F8" stroke="#555" stroke-width="0.6"/>
<line x1="194.95" y1="727.24" x2="194.95" y2="743.76" stroke="#222" stroke-width="0.8"/>
<line x1="191.93" y1="727.24" x2="197.97" y2="727.24" stroke="#222" stroke-width="0.8"/>
<line x1="191.93" y1="743.76" x2="197.97" y2="743.76" stroke="#222" stroke-width="0.8"/>
<circle cx="193.75" cy="723.11" r="1.1" fill="#000"/>
<circle cx="196.55" cy="733.85" r="1.1" fill="#000"/>
<circle cx="194.95" cy="747.06" r="1.1" fill="#000"/>
<text x="187.30" y="805.10" font-size="9.1" text-anchor="middle" font-weight="bold" fill="#111" stroke="#111" stroke-width="0.2" >LCT</text>
<line x1="225.20" y1="788.60" x2="225.20" y2="793.80" stroke="#1a1a1a" stroke-width="1.2"/>
<rect x="210.35" y="765.00" width="14.40" height="23.60" fill="#000" stroke="#555" stroke-width="0.6"/>
<line x1="217.55" y1="762.17" x2="217.55" y2="767.83" stroke="#222" stroke-width="0.8"/>
<line x1="214.53" y1="762.17" x2="220.57" y2="762.17" stroke="#222" stroke-width="0.8"/>
<line x1="214.53" y1="767.83" x2="220.57" y2="767.83" stroke="#222" stroke-width="0.8"/>
<circle cx="216.35" cy="760.75" r="1.1" fill="#000"/>
<circle cx="219.15" cy="764.43" r="1.1" fill="#000"/>
<circle cx="217.55" cy="768.96" r="1.1" fill="#000"/>
<rect x="225.65" y="746.12" width="14.40" height="42.48" fill="#56A0F8" stroke="#555" stroke-width="0.6"/>
<line x1="232.85" y1="741.87" x2="232.85" y2="750.37" stroke="#222" stroke-width="0.8"/>
<line x1="229.83" y1="741.87" x2="235.87" y2="741.87" stroke="#222" stroke-width="0.8"/>
<line x1="229.83" y1="750.37" x2="235.87" y2="750.37" stroke="#222" stroke-width="0.8"/>
<circle cx="231.65" cy="739.75" r="1.1" fill="#000"/>
<circle cx="234.45" cy="745.27" r="1.1" fill="#000"/>
<circle cx="232.85" cy="752.07" r="1.1" fill="#000"/>
<text x="225.20" y="805.10" font-size="9.1" text-anchor="middle" font-weight="bold" fill="#111" stroke="#111" stroke-width="0.2" >ABTB2</text>
<path d="M65.00,706.20 V704.80 Q65.00,703.80 66.00,703.80 H79.30 Q80.30,703.80 80.30,704.80 V706.20" fill="none" stroke="#222" stroke-width="0.85"/>
<path d="M72.65,695.90 L73.51,697.32 L75.12,697.70 L74.03,698.95 L74.18,700.60 L72.65,699.96 L71.12,700.60 L71.27,698.95 L70.18,697.70 L71.79,697.32 Z" fill="#111"/>
<path d="M104.00,728.90 V727.50 Q104.00,726.50 105.00,726.50 H118.70 Q119.70,726.50 119.70,727.50 V728.90" fill="none" stroke="#222" stroke-width="0.85"/>
<path d="M111.85,718.60 L112.71,720.02 L114.32,720.40 L113.23,721.65 L113.38,723.30 L111.85,722.66 L110.32,723.30 L110.47,721.65 L109.38,720.40 L110.99,720.02 Z" fill="#111"/>
<path d="M142.30,714.30 V712.90 Q142.30,711.90 143.30,711.90 H156.00 Q157.00,711.90 157.00,712.90 V714.30" fill="none" stroke="#222" stroke-width="0.85"/>
<path d="M146.85,704.90 L147.64,706.21 L149.13,706.56 L148.13,707.72 L148.26,709.24 L146.85,708.64 L145.44,709.24 L145.57,707.72 L144.57,706.56 L146.06,706.21 Z M152.45,704.90 L153.24,706.21 L154.73,706.56 L153.73,707.72 L153.86,709.24 L152.45,708.64 L151.04,709.24 L151.17,707.72 L150.17,706.56 L151.66,706.21 Z" fill="#111"/>
<path d="M180.70,717.90 V716.50 Q180.70,715.50 181.70,715.50 H195.40 Q196.40,715.50 196.40,716.50 V717.90" fill="none" stroke="#222" stroke-width="0.85"/>
<path d="M188.55,707.60 L189.41,709.02 L191.02,709.40 L189.93,710.65 L190.08,712.30 L188.55,711.66 L187.02,712.30 L187.17,710.65 L186.08,709.40 L187.69,709.02 Z" fill="#111"/>
<path d="M218.20,732.90 V731.50 Q218.20,730.50 219.20,730.50 H232.60 Q233.60,730.50 233.60,731.50 V732.90" fill="none" stroke="#222" stroke-width="0.85"/>
<path d="M225.90,722.60 L226.76,724.02 L228.37,724.40 L227.28,725.65 L227.43,727.30 L225.90,726.66 L224.37,727.30 L224.52,725.65 L223.43,724.40 L225.04,724.02 Z" fill="#111"/>
<rect x="246.40" y="672.60" width="8.80" height="8.80" fill="#000" stroke="#222" stroke-width="0.7"/>
<text x="258.20" y="679.80" font-size="9" text-anchor="start" font-weight="bold" fill="#111" stroke="#111" stroke-width="0.2" >NT</text>
<rect x="246.40" y="685.70" width="8.80" height="8.80" fill="#56A0F8" stroke="#222" stroke-width="0.7"/>
<text x="258.20" y="692.90" font-size="9" text-anchor="start" font-weight="bold" fill="#111" stroke="#111" stroke-width="0.2" >Forskolin</text>
<text x="338.20" y="673.50" font-size="16" font-weight="bold" fill="#000" stroke="#000" stroke-width="0.45">j</text>
<line x1="393.70" y1="682.00" x2="579.00" y2="682.00" stroke="#555" stroke-width="1.0"/>
<text x="488.40" y="675.70" font-size="9.1" text-anchor="middle" font-weight="bold" fill="#111" stroke="#111" stroke-width="0.2" >Adult enterocyte gene</text>
<text x="351.50" y="745.50" font-size="9" text-anchor="middle" font-weight="bold" fill="#111" stroke="#111" stroke-width="0.22" transform="rotate(-90 351.50 745.50)">Relative mRNA expression/</text>
<text x="363.10" y="745.50" font-size="9" text-anchor="middle" font-weight="bold" fill="#111" stroke="#111" stroke-width="0.22" transform="rotate(-90 363.10 745.50)">Hprt+Rplp0</text>
<line x1="379.60" y1="696.70" x2="379.60" y2="793.90" stroke="#444" stroke-width="1.2"/>
<line x1="379.60" y1="793.30" x2="593.00" y2="793.30" stroke="#1a1a1a" stroke-width="1.2"/>
<line x1="375.10" y1="793.30" x2="379.60" y2="793.30" stroke="#444" stroke-width="1.2"/>
<text x="374.40" y="797.45" font-size="8.2" text-anchor="end" font-weight="bold" fill="#111" stroke="#111" stroke-width="0.2" >0</text>
<line x1="375.10" y1="761.10" x2="379.60" y2="761.10" stroke="#444" stroke-width="1.2"/>
<text x="374.40" y="765.25" font-size="8.2" text-anchor="end" font-weight="bold" fill="#111" stroke="#111" stroke-width="0.2" >1</text>
<line x1="375.10" y1="728.90" x2="379.60" y2="728.90" stroke="#444" stroke-width="1.2"/>
<text x="374.40" y="733.05" font-size="8.2" text-anchor="end" font-weight="bold" fill="#111" stroke="#111" stroke-width="0.2" >2</text>
<line x1="375.10" y1="696.70" x2="379.60" y2="696.70" stroke="#444" stroke-width="1.2"/>
<text x="374.40" y="700.85" font-size="8.2" text-anchor="end" font-weight="bold" fill="#111" stroke="#111" stroke-width="0.2" >3</text>
<line x1="400.60" y1="793.30" x2="400.60" y2="798.50" stroke="#1a1a1a" stroke-width="1.2"/>
<rect x="382.90" y="761.10" width="10.40" height="32.20" fill="#646464" stroke="#555" stroke-width="0.6"/>
<line x1="388.10" y1="757.24" x2="388.10" y2="764.96" stroke="#222" stroke-width="0.8"/>
<line x1="385.92" y1="757.24" x2="390.28" y2="757.24" stroke="#222" stroke-width="0.8"/>
<line x1="385.92" y1="764.96" x2="390.28" y2="764.96" stroke="#222" stroke-width="0.8"/>
<circle cx="386.90" cy="755.30" r="1.1" fill="#000"/>
<circle cx="389.70" cy="760.33" r="1.1" fill="#000"/>
<circle cx="388.10" cy="766.51" r="1.1" fill="#000"/>
<rect x="395.40" y="739.85" width="10.40" height="53.45" fill="#F2B57A" stroke="#555" stroke-width="0.6"/>
<line x1="400.60" y1="735.66" x2="400.60" y2="744.03" stroke="#222" stroke-width="0.8"/>
<line x1="398.42" y1="735.66" x2="402.78" y2="735.66" stroke="#222" stroke-width="0.8"/>
<line x1="398.42" y1="744.03" x2="402.78" y2="744.03" stroke="#222" stroke-width="0.8"/>
<circle cx="399.40" cy="733.57" r="1.1" fill="#000"/>
<circle cx="402.20" cy="739.01" r="1.1" fill="#000"/>
<circle cx="400.60" cy="745.71" r="1.1" fill="#000"/>
<rect x="407.90" y="728.90" width="10.40" height="64.40" fill="#C4904E" stroke="#555" stroke-width="0.6"/>
<line x1="413.10" y1="726.65" x2="413.10" y2="731.15" stroke="#222" stroke-width="0.8"/>
<line x1="410.92" y1="726.65" x2="415.28" y2="726.65" stroke="#222" stroke-width="0.8"/>
<line x1="410.92" y1="731.15" x2="415.28" y2="731.15" stroke="#222" stroke-width="0.8"/>
<circle cx="411.90" cy="725.52" r="1.1" fill="#000"/>
<circle cx="414.70" cy="728.45" r="1.1" fill="#000"/>
<circle cx="413.10" cy="732.06" r="1.1" fill="#000"/>
<text x="400.60" y="807.30" font-size="9.1" text-anchor="middle" font-weight="bold" fill="#111" stroke="#111" stroke-width="0.2" >TM4SF20</text>
<line x1="443.00" y1="793.30" x2="443.00" y2="798.50" stroke="#1a1a1a" stroke-width="1.2"/>
<rect x="425.30" y="761.10" width="10.40" height="32.20" fill="#646464" stroke="#555" stroke-width="0.6"/>
<line x1="430.50" y1="759.17" x2="430.50" y2="763.03" stroke="#222" stroke-width="0.8"/>
<line x1="428.32" y1="759.17" x2="432.68" y2="759.17" stroke="#222" stroke-width="0.8"/>
<line x1="428.32" y1="763.03" x2="432.68" y2="763.03" stroke="#222" stroke-width="0.8"/>
<circle cx="429.30" cy="758.20" r="1.1" fill="#000"/>
<circle cx="432.10" cy="760.71" r="1.1" fill="#000"/>
<circle cx="430.50" cy="763.80" r="1.1" fill="#000"/>
<rect x="437.80" y="757.24" width="10.40" height="36.06" fill="#F2B57A" stroke="#555" stroke-width="0.6"/>
<line x1="443.00" y1="754.02" x2="443.00" y2="760.46" stroke="#222" stroke-width="0.8"/>
<line x1="440.82" y1="754.02" x2="445.18" y2="754.02" stroke="#222" stroke-width="0.8"/>
<line x1="440.82" y1="760.46" x2="445.18" y2="760.46" stroke="#222" stroke-width="0.8"/>
<circle cx="441.80" cy="752.41" r="1.1" fill="#000"/>
<circle cx="444.60" cy="756.59" r="1.1" fill="#000"/>
<circle cx="443.00" cy="761.74" r="1.1" fill="#000"/>
<rect x="450.30" y="749.19" width="10.40" height="44.11" fill="#C4904E" stroke="#555" stroke-width="0.6"/>
<line x1="455.50" y1="745.32" x2="455.50" y2="753.05" stroke="#222" stroke-width="0.8"/>
<line x1="453.32" y1="745.32" x2="457.68" y2="745.32" stroke="#222" stroke-width="0.8"/>
<line x1="453.32" y1="753.05" x2="457.68" y2="753.05" stroke="#222" stroke-width="0.8"/>
<circle cx="454.30" cy="743.39" r="1.1" fill="#000"/>
<circle cx="457.10" cy="748.41" r="1.1" fill="#000"/>
<circle cx="455.50" cy="754.60" r="1.1" fill="#000"/>
<text x="443.80" y="807.30" font-size="9.1" text-anchor="middle" font-weight="bold" fill="#111" stroke="#111" stroke-width="0.2" >THSD4</text>
<line x1="485.40" y1="793.30" x2="485.40" y2="798.50" stroke="#1a1a1a" stroke-width="1.2"/>
<rect x="467.70" y="761.10" width="10.40" height="32.20" fill="#646464" stroke="#555" stroke-width="0.6"/>
<line x1="472.90" y1="758.52" x2="472.90" y2="763.68" stroke="#222" stroke-width="0.8"/>
<line x1="470.72" y1="758.52" x2="475.08" y2="758.52" stroke="#222" stroke-width="0.8"/>
<line x1="470.72" y1="763.68" x2="475.08" y2="763.68" stroke="#222" stroke-width="0.8"/>
<circle cx="471.70" cy="757.24" r="1.1" fill="#000"/>
<circle cx="474.50" cy="760.58" r="1.1" fill="#000"/>
<circle cx="472.90" cy="764.71" r="1.1" fill="#000"/>
<rect x="480.20" y="744.03" width="10.40" height="49.27" fill="#F2B57A" stroke="#555" stroke-width="0.6"/>
<line x1="485.40" y1="742.10" x2="485.40" y2="745.97" stroke="#222" stroke-width="0.8"/>
<line x1="483.22" y1="742.10" x2="487.58" y2="742.10" stroke="#222" stroke-width="0.8"/>
<line x1="483.22" y1="745.97" x2="487.58" y2="745.97" stroke="#222" stroke-width="0.8"/>
<circle cx="484.20" cy="741.14" r="1.1" fill="#000"/>
<circle cx="487.00" cy="743.65" r="1.1" fill="#000"/>
<circle cx="485.40" cy="746.74" r="1.1" fill="#000"/>
<rect x="492.70" y="745.00" width="10.40" height="48.30" fill="#C4904E" stroke="#555" stroke-width="0.6"/>
<line x1="497.90" y1="741.14" x2="497.90" y2="748.86" stroke="#222" stroke-width="0.8"/>
<line x1="495.72" y1="741.14" x2="500.08" y2="741.14" stroke="#222" stroke-width="0.8"/>
<line x1="495.72" y1="748.86" x2="500.08" y2="748.86" stroke="#222" stroke-width="0.8"/>
<circle cx="496.70" cy="739.20" r="1.1" fill="#000"/>
<circle cx="499.50" cy="744.23" r="1.1" fill="#000"/>
<circle cx="497.90" cy="750.41" r="1.1" fill="#000"/>
<text x="487.30" y="807.30" font-size="9.1" text-anchor="middle" font-weight="bold" fill="#111" stroke="#111" stroke-width="0.2" >SLC46A1</text>
<line x1="527.80" y1="793.30" x2="527.80" y2="798.50" stroke="#1a1a1a" stroke-width="1.2"/>
<rect x="510.10" y="761.10" width="10.40" height="32.20" fill="#646464" stroke="#555" stroke-width="0.6"/>
<line x1="515.30" y1="758.85" x2="515.30" y2="763.35" stroke="#222" stroke-width="0.8"/>
<line x1="513.12" y1="758.85" x2="517.48" y2="758.85" stroke="#222" stroke-width="0.8"/>
<line x1="513.12" y1="763.35" x2="517.48" y2="763.35" stroke="#222" stroke-width="0.8"/>
<circle cx="514.10" cy="757.72" r="1.1" fill="#000"/>
<circle cx="516.90" cy="760.65" r="1.1" fill="#000"/>
<circle cx="515.30" cy="764.26" r="1.1" fill="#000"/>
<rect x="522.60" y="738.88" width="10.40" height="54.42" fill="#F2B57A" stroke="#555" stroke-width="0.6"/>
<line x1="527.80" y1="733.41" x2="527.80" y2="744.36" stroke="#222" stroke-width="0.8"/>
<line x1="525.62" y1="733.41" x2="529.98" y2="733.41" stroke="#222" stroke-width="0.8"/>
<line x1="525.62" y1="744.36" x2="529.98" y2="744.36" stroke="#222" stroke-width="0.8"/>
<circle cx="526.60" cy="730.67" r="1.1" fill="#000"/>
<circle cx="529.40" cy="737.79" r="1.1" fill="#000"/>
<circle cx="527.80" cy="746.55" r="1.1" fill="#000"/>
<rect x="535.10" y="726.97" width="10.40" height="66.33" fill="#C4904E" stroke="#555" stroke-width="0.6"/>
<line x1="540.30" y1="724.39" x2="540.30" y2="729.54" stroke="#222" stroke-width="0.8"/>
<line x1="538.12" y1="724.39" x2="542.48" y2="724.39" stroke="#222" stroke-width="0.8"/>
<line x1="538.12" y1="729.54" x2="542.48" y2="729.54" stroke="#222" stroke-width="0.8"/>
<circle cx="539.10" cy="723.10" r="1.1" fill="#000"/>
<circle cx="541.90" cy="726.45" r="1.1" fill="#000"/>
<circle cx="540.30" cy="730.57" r="1.1" fill="#000"/>
<text x="529.80" y="807.30" font-size="9.1" text-anchor="middle" font-weight="bold" fill="#111" stroke="#111" stroke-width="0.2" >LCT</text>
<line x1="570.30" y1="793.30" x2="570.30" y2="798.50" stroke="#1a1a1a" stroke-width="1.2"/>
<rect x="552.60" y="761.74" width="10.40" height="31.56" fill="#646464" stroke="#555" stroke-width="0.6"/>
<line x1="557.80" y1="760.78" x2="557.80" y2="762.71" stroke="#222" stroke-width="0.8"/>
<line x1="555.62" y1="760.78" x2="559.98" y2="760.78" stroke="#222" stroke-width="0.8"/>
<line x1="555.62" y1="762.71" x2="559.98" y2="762.71" stroke="#222" stroke-width="0.8"/>
<circle cx="554.37" cy="761.16" r="1.1" fill="#000"/>
<circle cx="557.80" cy="761.74" r="1.1" fill="#000"/>
<circle cx="561.23" cy="762.32" r="1.1" fill="#000"/>
<rect x="565.10" y="753.05" width="10.40" height="40.25" fill="#F2B57A" stroke="#555" stroke-width="0.6"/>
<line x1="570.30" y1="750.47" x2="570.30" y2="755.63" stroke="#222" stroke-width="0.8"/>
<line x1="568.12" y1="750.47" x2="572.48" y2="750.47" stroke="#222" stroke-width="0.8"/>
<line x1="568.12" y1="755.63" x2="572.48" y2="755.63" stroke="#222" stroke-width="0.8"/>
<circle cx="569.10" cy="749.19" r="1.1" fill="#000"/>
<circle cx="571.90" cy="752.53" r="1.1" fill="#000"/>
<circle cx="570.30" cy="756.66" r="1.1" fill="#000"/>
<rect x="577.60" y="749.83" width="10.40" height="43.47" fill="#C4904E" stroke="#555" stroke-width="0.6"/>
<line x1="582.80" y1="744.03" x2="582.80" y2="755.63" stroke="#222" stroke-width="0.8"/>
<line x1="580.62" y1="744.03" x2="584.98" y2="744.03" stroke="#222" stroke-width="0.8"/>
<line x1="580.62" y1="755.63" x2="584.98" y2="755.63" stroke="#222" stroke-width="0.8"/>
<circle cx="581.60" cy="741.14" r="1.1" fill="#000"/>
<circle cx="584.40" cy="748.67" r="1.1" fill="#000"/>
<circle cx="582.80" cy="757.94" r="1.1" fill="#000"/>
<text x="570.30" y="807.30" font-size="9.1" text-anchor="middle" font-weight="bold" fill="#111" stroke="#111" stroke-width="0.2" >ABTB2</text>
<path d="M386.20,728.40 V727.00 Q386.20,726.00 387.20,726.00 H399.70 Q400.70,726.00 400.70,727.00 V728.40" fill="none" stroke="#222" stroke-width="0.85"/>
<path d="M393.45,720.70 L394.08,721.74 L395.26,722.01 L394.46,722.93 L394.57,724.14 L393.45,723.66 L392.33,724.14 L392.44,722.93 L391.64,722.01 L392.82,721.74 Z" fill="#111"/>
<path d="M386.20,719.60 V718.20 Q386.20,717.20 387.20,717.20 H411.50 Q412.50,717.20 412.50,718.20 V719.60" fill="none" stroke="#222" stroke-width="0.85"/>
<path d="M399.35,711.90 L399.98,712.94 L401.16,713.21 L400.36,714.13 L400.47,715.34 L399.35,714.86 L398.23,715.34 L398.34,714.13 L397.54,713.21 L398.72,712.94 Z" fill="#111"/>
<path d="M428.80,739.20 V737.80 Q428.80,736.80 429.80,736.80 H454.90 Q455.90,736.80 455.90,737.80 V739.20" fill="none" stroke="#222" stroke-width="0.85"/>
<text x="442.35" y="733.80" font-size="6.8" text-anchor="middle" font-weight="bold" fill="#111" stroke="#111" stroke-width="0.2" >0.06</text>
<path d="M473.20,737.20 V735.80 Q473.20,734.80 474.20,734.80 H485.80 Q486.80,734.80 486.80,735.80 V737.20" fill="none" stroke="#222" stroke-width="0.85"/>
<path d="M477.90,729.50 L478.53,730.54 L479.71,730.81 L478.91,731.73 L479.02,732.94 L477.90,732.46 L476.78,732.94 L476.89,731.73 L476.09,730.81 L477.27,730.54 Z M482.10,729.50 L482.73,730.54 L483.91,730.81 L483.11,731.73 L483.22,732.94 L482.10,732.46 L480.98,732.94 L481.09,731.73 L480.29,730.81 L481.47,730.54 Z" fill="#111"/>
<path d="M472.30,728.20 V726.80 Q472.30,725.80 473.30,725.80 H498.80 Q499.80,725.80 499.80,726.80 V728.20" fill="none" stroke="#222" stroke-width="0.85"/>
<path d="M486.05,720.50 L486.68,721.54 L487.86,721.81 L487.06,722.73 L487.17,723.94 L486.05,723.46 L484.93,723.94 L485.04,722.73 L484.24,721.81 L485.42,721.54 Z" fill="#111"/>
<path d="M513.40,724.40 V723.00 Q513.40,722.00 514.40,722.00 H526.20 Q527.20,722.00 527.20,723.00 V724.40" fill="none" stroke="#222" stroke-width="0.85"/>
<path d="M520.30,716.70 L520.93,717.74 L522.11,718.01 L521.31,718.93 L521.42,720.14 L520.30,719.66 L519.18,720.14 L519.29,718.93 L518.49,718.01 L519.67,717.74 Z" fill="#111"/>
<path d="M513.40,716.10 V714.70 Q513.40,713.70 514.40,713.70 H538.70 Q539.70,713.70 539.70,714.70 V716.10" fill="none" stroke="#222" stroke-width="0.85"/>
<path d="M524.45,708.40 L525.08,709.44 L526.26,709.71 L525.46,710.63 L525.57,711.84 L524.45,711.36 L523.33,711.84 L523.44,710.63 L522.64,709.71 L523.82,709.44 Z M528.65,708.40 L529.28,709.44 L530.46,709.71 L529.66,710.63 L529.77,711.84 L528.65,711.36 L527.53,711.84 L527.64,710.63 L526.84,709.71 L528.02,709.44 Z" fill="#111"/>
<rect x="607.20" y="693.30" width="8.70" height="8.10" fill="#000" stroke="#333" stroke-width="0.7"/>
<text x="619.20" y="700.10" font-size="9.1" text-anchor="start" font-weight="bold" fill="#111" stroke="#111" stroke-width="0.2" >NT</text>
<rect x="607.20" y="706.35" width="8.70" height="8.10" fill="#F2B57A" stroke="#333" stroke-width="0.7"/>
<text x="619.20" y="712.85" font-size="9.1" text-anchor="start" font-weight="bold" fill="#111" stroke="#111" stroke-width="0.2" >VX-770</text>
<rect x="607.20" y="719.40" width="8.70" height="8.10" fill="#C4904E" stroke="#333" stroke-width="0.7"/>
<text x="619.20" y="725.60" font-size="9.1" text-anchor="start" font-weight="bold" fill="#111" stroke="#111" stroke-width="0.2" >VX-770+VX-445</text>
<text x="1.00" y="857.50" font-size="16" font-weight="bold" fill="#000" stroke="#000" stroke-width="0.45">k</text>
<rect x="43" y="856.5" width="116.5" height="12" fill="#fff" stroke="#333" stroke-width="1"/>
<text x="101.40" y="866.00" font-size="9.0" text-anchor="middle" font-weight="bold" fill="#111" stroke="#111" stroke-width="0.2" >NT</text>
<rect x="164.5" y="856.5" width="117.5" height="12" fill="#fff" stroke="#333" stroke-width="1"/>
<text x="222.90" y="866.00" font-size="9.1" text-anchor="middle" font-weight="bold" fill="#111" stroke="#111" stroke-width="0.2" >EV39</text>
<rect x="28.8" y="871.2" width="11.8" height="119" fill="#fff" stroke="#333" stroke-width="1"/>
<text x="38.6" y="930.8" font-size="8.9" font-weight="bold" text-anchor="middle" stroke-width="0.2" transform="rotate(-90 38.6 930.8)"><tspan fill="#10a040" stroke="#10a040">CFTR</tspan><tspan fill="#111" stroke="#111">/</tspan><tspan fill="#c81828" stroke="#c81828">EdU</tspan></text>
<defs><filter id="bl1" x="-50%" y="-50%" width="200%" height="200%"><feGaussianBlur stdDeviation="1.6"/></filter><filter id="bl2" x="-50%" y="-50%" width="200%" height="200%"><feGaussianBlur stdDeviation="0.6"/></filter><filter id="bl3" x="-100%" y="-100%" width="300%" height="300%"><feGaussianBlur stdDeviation="0.4"/></filter><filter id="bl4" x="-50%" y="-50%" width="200%" height="200%"><feGaussianBlur stdDeviation="1.0"/></filter><clipPath id="im1"><rect x="42" y="871" width="118.5" height="120"/></clipPath><clipPath id="im2"><rect x="164.3" y="872" width="118.7" height="119"/></clipPath></defs>
<g clip-path="url(#im1)"><rect x="42" y="871" width="120" height="120" fill="#000200"/>
<defs><radialGradient id="gh" cx="0.75" cy="0.7" r="0.6"><stop offset="0" stop-color="#0a3a10" stop-opacity="0.55"/><stop offset="1" stop-color="#0a3a10" stop-opacity="0"/></radialGradient></defs>
<rect x="42" y="871" width="120" height="120" fill="url(#gh)"/>
<circle cx="94.4" cy="889.1" r="0.6" fill="#20b02a" opacity="0.15" filter="url(#bl3)"/>
<circle cx="115.6" cy="914.9" r="0.6" fill="#20b02a" opacity="0.37" filter="url(#bl3)"/>
<circle cx="83.5" cy="881.3" r="0.9" fill="#20b02a" opacity="0.14" filter="url(#bl3)"/>
<circle cx="144.7" cy="885.9" r="0.7" fill="#20b02a" opacity="0.26" filter="url(#bl3)"/>
<circle cx="120.3" cy="878.4" r="1.0" fill="#20b02a" opacity="0.20" filter="url(#bl3)"/>
<circle cx="159.6" cy="876.6" r="0.7" fill="#20b02a" opacity="0.18" filter="url(#bl3)"/>
<circle cx="76.4" cy="885.1" r="0.8" fill="#20b02a" opacity="0.24" filter="url(#bl3)"/>
<circle cx="130.2" cy="883.4" r="1.0" fill="#20b02a" opacity="0.26" filter="url(#bl3)"/>
<circle cx="104.8" cy="908.7" r="1.0" fill="#20b02a" opacity="0.36" filter="url(#bl3)"/>
<circle cx="98.2" cy="900.8" r="0.7" fill="#20b02a" opacity="0.30" filter="url(#bl3)"/>
<circle cx="134.9" cy="905.6" r="0.6" fill="#20b02a" opacity="0.18" filter="url(#bl3)"/>
<circle cx="138.5" cy="939.8" r="0.8" fill="#20b02a" opacity="0.27" filter="url(#bl3)"/>
<circle cx="141.7" cy="879.3" r="0.6" fill="#20b02a" opacity="0.31" filter="url(#bl3)"/>
<circle cx="144.2" cy="905.2" r="0.9" fill="#20b02a" opacity="0.35" filter="url(#bl3)"/>
<circle cx="111.4" cy="897.2" r="0.8" fill="#20b02a" opacity="0.17" filter="url(#bl3)"/>
<circle cx="149.1" cy="880.7" r="0.9" fill="#20b02a" opacity="0.21" filter="url(#bl3)"/>
<circle cx="89.8" cy="887.4" r="0.9" fill="#20b02a" opacity="0.31" filter="url(#bl3)"/>
<circle cx="157.8" cy="889.1" r="0.7" fill="#20b02a" opacity="0.17" filter="url(#bl3)"/>
<circle cx="127.9" cy="872.4" r="1.0" fill="#20b02a" opacity="0.15" filter="url(#bl3)"/>
<circle cx="90.2" cy="888.5" r="1.0" fill="#20b02a" opacity="0.21" filter="url(#bl3)"/>
<circle cx="131.0" cy="932.9" r="1.0" fill="#20b02a" opacity="0.34" filter="url(#bl3)"/>
<circle cx="136.0" cy="925.8" r="1.0" fill="#20b02a" opacity="0.26" filter="url(#bl3)"/>
<circle cx="101.9" cy="883.4" r="0.9" fill="#20b02a" opacity="0.14" filter="url(#bl3)"/>
<circle cx="67.3" cy="871.0" r="0.7" fill="#20b02a" opacity="0.22" filter="url(#bl3)"/>
<circle cx="156.9" cy="944.6" r="0.6" fill="#20b02a" opacity="0.42" filter="url(#bl3)"/>
<circle cx="123.4" cy="888.8" r="0.8" fill="#20b02a" opacity="0.33" filter="url(#bl3)"/>
<circle cx="122.2" cy="927.9" r="0.6" fill="#20b02a" opacity="0.38" filter="url(#bl3)"/>
<circle cx="161.3" cy="926.9" r="0.9" fill="#20b02a" opacity="0.24" filter="url(#bl3)"/>
<circle cx="136.0" cy="928.4" r="0.7" fill="#20b02a" opacity="0.30" filter="url(#bl3)"/>
<circle cx="153.4" cy="962.0" r="0.8" fill="#20b02a" opacity="0.48" filter="url(#bl3)"/>
<circle cx="148.3" cy="954.5" r="0.8" fill="#20b02a" opacity="0.34" filter="url(#bl3)"/>
<circle cx="152.8" cy="913.7" r="0.7" fill="#20b02a" opacity="0.28" filter="url(#bl3)"/>
<circle cx="139.9" cy="910.6" r="0.7" fill="#20b02a" opacity="0.29" filter="url(#bl3)"/>
<circle cx="140.8" cy="962.0" r="0.7" fill="#20b02a" opacity="0.43" filter="url(#bl3)"/>
<circle cx="143.8" cy="959.8" r="0.7" fill="#20b02a" opacity="0.25" filter="url(#bl3)"/>
<circle cx="161.0" cy="965.8" r="0.9" fill="#20b02a" opacity="0.28" filter="url(#bl3)"/>
<circle cx="131.3" cy="985.8" r="0.9" fill="#20b02a" opacity="0.48" filter="url(#bl3)"/>
<circle cx="134.3" cy="912.9" r="0.8" fill="#20b02a" opacity="0.17" filter="url(#bl3)"/>
<circle cx="160.5" cy="944.2" r="0.6" fill="#20b02a" opacity="0.31" filter="url(#bl3)"/>
<circle cx="127.3" cy="967.0" r="0.6" fill="#20b02a" opacity="0.45" filter="url(#bl3)"/>
<circle cx="133.1" cy="894.9" r="0.7" fill="#20b02a" opacity="0.23" filter="url(#bl3)"/>
<circle cx="125.6" cy="881.4" r="0.9" fill="#20b02a" opacity="0.22" filter="url(#bl3)"/>
<circle cx="136.3" cy="881.2" r="0.7" fill="#20b02a" opacity="0.16" filter="url(#bl3)"/>
<circle cx="152.5" cy="967.8" r="0.7" fill="#20b02a" opacity="0.38" filter="url(#bl3)"/>
<circle cx="121.6" cy="927.9" r="0.8" fill="#20b02a" opacity="0.21" filter="url(#bl3)"/>
<circle cx="116.8" cy="873.6" r="0.6" fill="#20b02a" opacity="0.22" filter="url(#bl3)"/>
<circle cx="155.4" cy="923.1" r="0.7" fill="#20b02a" opacity="0.37" filter="url(#bl3)"/>
<circle cx="91.3" cy="899.9" r="1.0" fill="#20b02a" opacity="0.21" filter="url(#bl3)"/>
<circle cx="151.8" cy="950.5" r="1.0" fill="#20b02a" opacity="0.30" filter="url(#bl3)"/>
<circle cx="153.8" cy="931.2" r="1.0" fill="#20b02a" opacity="0.21" filter="url(#bl3)"/>
<circle cx="139.7" cy="944.0" r="0.7" fill="#20b02a" opacity="0.23" filter="url(#bl3)"/>
<circle cx="117.6" cy="910.1" r="1.0" fill="#20b02a" opacity="0.27" filter="url(#bl3)"/>
<circle cx="150.3" cy="877.8" r="0.7" fill="#20b02a" opacity="0.18" filter="url(#bl3)"/>
<circle cx="139.2" cy="931.9" r="1.0" fill="#20b02a" opacity="0.18" filter="url(#bl3)"/>
<circle cx="151.4" cy="878.6" r="0.8" fill="#20b02a" opacity="0.24" filter="url(#bl3)"/>
<circle cx="112.6" cy="932.5" r="0.8" fill="#20b02a" opacity="0.29" filter="url(#bl3)"/>
<circle cx="115.3" cy="928.4" r="0.7" fill="#20b02a" opacity="0.34" filter="url(#bl3)"/>
<circle cx="149.7" cy="984.1" r="0.8" fill="#20b02a" opacity="0.51" filter="url(#bl3)"/>
<circle cx="151.3" cy="895.3" r="0.9" fill="#20b02a" opacity="0.17" filter="url(#bl3)"/>
<circle cx="140.4" cy="978.6" r="0.7" fill="#20b02a" opacity="0.51" filter="url(#bl3)"/>
<circle cx="126.3" cy="914.9" r="0.8" fill="#20b02a" opacity="0.36" filter="url(#bl3)"/>
<circle cx="158.8" cy="897.4" r="0.6" fill="#20b02a" opacity="0.23" filter="url(#bl3)"/>
<circle cx="145.2" cy="890.4" r="0.9" fill="#20b02a" opacity="0.34" filter="url(#bl3)"/>
<circle cx="102.4" cy="921.6" r="0.8" fill="#20b02a" opacity="0.24" filter="url(#bl3)"/>
<circle cx="134.2" cy="873.3" r="1.0" fill="#20b02a" opacity="0.21" filter="url(#bl3)"/>
<circle cx="132.3" cy="917.1" r="1.0" fill="#20b02a" opacity="0.31" filter="url(#bl3)"/>
<circle cx="113.2" cy="878.7" r="0.7" fill="#20b02a" opacity="0.31" filter="url(#bl3)"/>
<circle cx="89.0" cy="886.5" r="0.9" fill="#20b02a" opacity="0.30" filter="url(#bl3)"/>
<circle cx="129.6" cy="984.5" r="0.9" fill="#20b02a" opacity="0.26" filter="url(#bl3)"/>
<circle cx="86" cy="878" r="0.9" fill="#30d040" opacity="0.6" filter="url(#bl3)"/>
<circle cx="113" cy="887" r="0.9" fill="#30d040" opacity="0.6" filter="url(#bl3)"/>
<circle cx="96" cy="914" r="0.9" fill="#30d040" opacity="0.6" filter="url(#bl3)"/>
<circle cx="127" cy="921" r="0.9" fill="#30d040" opacity="0.6" filter="url(#bl3)"/>
<circle cx="109" cy="942" r="0.9" fill="#30d040" opacity="0.6" filter="url(#bl3)"/>
<circle cx="154" cy="951" r="0.9" fill="#30d040" opacity="0.6" filter="url(#bl3)"/>
<circle cx="147" cy="982" r="0.9" fill="#30d040" opacity="0.6" filter="url(#bl3)"/>
<circle cx="125" cy="965" r="0.9" fill="#30d040" opacity="0.6" filter="url(#bl3)"/>
<circle cx="98" cy="893" r="0.9" fill="#30d040" opacity="0.6" filter="url(#bl3)"/>
<path d="M56,871 Q90,925 128,991" stroke="#0c5a1c" stroke-width="3" fill="none" opacity="0.7" filter="url(#bl2)"/>
<path d="M42,871 L56,871 Q90,925 126,991 L92,991 Q75,960 58,940 L42,925 Z" fill="#0a0a60" filter="url(#bl1)"/>
<path d="M42,930 Q55,950 70,991 L42,991 Z" fill="#000000" opacity="0.9" filter="url(#bl1)"/>
<ellipse cx="47" cy="879" rx="5" ry="6.5" transform="rotate(15 47 879)" fill="#2a2aff" filter="url(#bl4)"/>
<ellipse cx="44" cy="893" rx="3" ry="5" transform="rotate(0 44 893)" fill="#2020d0" filter="url(#bl4)"/>
<ellipse cx="47" cy="900" rx="5" ry="5.5" transform="rotate(0 47 900)" fill="#2626f0" filter="url(#bl4)"/>
<ellipse cx="44" cy="913" rx="3" ry="4" transform="rotate(0 44 913)" fill="#1c1cc0" filter="url(#bl4)"/>
<ellipse cx="76" cy="914" rx="5.5" ry="6.5" transform="rotate(30 76 914)" fill="#2c2cff" filter="url(#bl4)"/>
<ellipse cx="92" cy="931" rx="5" ry="4" transform="rotate(40 92 931)" fill="#2424f0" filter="url(#bl4)"/>
<ellipse cx="82" cy="942" rx="5" ry="4" transform="rotate(30 82 942)" fill="#1e1ed8" filter="url(#bl4)"/>
<ellipse cx="66" cy="944" rx="4" ry="3" transform="rotate(30 66 944)" fill="#1616a8" filter="url(#bl4)"/>
<ellipse cx="99" cy="948" rx="5" ry="4" transform="rotate(40 99 948)" fill="#2020e0" filter="url(#bl4)"/>
<ellipse cx="106" cy="955" rx="7" ry="4.5" transform="rotate(25 106 955)" fill="#3030ff" filter="url(#bl4)"/>
<ellipse cx="86" cy="959" rx="6" ry="4" transform="rotate(30 86 959)" fill="#2424e8" filter="url(#bl4)"/>
<ellipse cx="93" cy="972" rx="7" ry="5" transform="rotate(20 93 972)" fill="#2a2aff" filter="url(#bl4)"/>
<ellipse cx="112" cy="979" rx="5" ry="4.5" transform="rotate(40 112 979)" fill="#2424f0" filter="url(#bl4)"/>
<ellipse cx="80" cy="986" rx="6" ry="5" transform="rotate(0 80 986)" fill="#2020d8" filter="url(#bl4)"/>
<ellipse cx="104" cy="989" rx="7" ry="4" transform="rotate(10 104 989)" fill="#2c2cff" filter="url(#bl4)"/>
<ellipse cx="120" cy="990" rx="4" ry="3" transform="rotate(0 120 990)" fill="#2020d0" filter="url(#bl4)"/>
<ellipse cx="72" cy="973" rx="4" ry="4" transform="rotate(0 72 973)" fill="#1a1ab8" filter="url(#bl4)"/>
<ellipse cx="67" cy="903" rx="5.5" ry="6.5" transform="rotate(20 67 903)" fill="#ff40f0" filter="url(#bl4)"/>
<ellipse cx="61" cy="916" rx="6" ry="5.5" transform="rotate(10 61 916)" fill="#f038e0" filter="url(#bl4)"/>
<ellipse cx="63" cy="909" rx="4" ry="4" transform="rotate(0 63 909)" fill="#e838e0" filter="url(#bl4)"/>
<ellipse cx="86" cy="925" rx="4.2" ry="6.5" transform="rotate(25 86 925)" fill="#f040e8" filter="url(#bl4)"/>
<ellipse cx="74" cy="931" rx="5" ry="4.5" transform="rotate(10 74 931)" fill="#c828c0" filter="url(#bl4)"/>
<circle cx="67" cy="901" r="1.1" fill="#fff" filter="url(#bl3)"/>
<circle cx="56" cy="942" r="2" fill="#28c838" filter="url(#bl2)"/>
<circle cx="59" cy="946" r="2.4" fill="#28c838" filter="url(#bl2)"/>
<circle cx="58" cy="956" r="2.1" fill="#28c838" filter="url(#bl2)"/>
<circle cx="63" cy="960" r="1.8" fill="#28c838" filter="url(#bl2)"/>
<circle cx="61" cy="964" r="1.5" fill="#28c838" filter="url(#bl2)"/>
<circle cx="45" cy="959" r="1.8" fill="#28c838" filter="url(#bl2)"/>
<circle cx="55" cy="950" r="1.3" fill="#28c838" filter="url(#bl2)"/>
<circle cx="54" cy="937" r="1.4" fill="#28c838" filter="url(#bl2)"/>
<circle cx="62" cy="961" r="1.0" fill="#40c0ff" filter="url(#bl2)"/>
</g>
<g clip-path="url(#im2)"><rect x="164" y="871.9" width="120" height="120" fill="#0c0703"/>
<path d="M164,871.9 L206,871.9 Q216,892 225,912 Q232,935 232,962 L229,991 L164,991 Z" fill="#0e0e80" filter="url(#bl2)"/>
<path d="M206,871.9 Q216,892 225,912 Q232,935 232,962 L229,991" stroke="#0a4010" stroke-width="5" fill="none" opacity="0.6" filter="url(#bl1)"/>
<ellipse cx="172" cy="879" rx="7" ry="6" transform="rotate(0 172 879)" fill="#3030ff" filter="url(#bl4)"/>
<ellipse cx="192" cy="877" rx="8" ry="5" transform="rotate(0 192 877)" fill="#3030ff" filter="url(#bl4)"/>
<ellipse cx="168" cy="897" rx="5" ry="8" transform="rotate(0 168 897)" fill="#3030ff" filter="url(#bl4)"/>
<ellipse cx="184" cy="902" rx="7" ry="7" transform="rotate(30 184 902)" fill="#3030ff" filter="url(#bl4)"/>
<ellipse cx="178" cy="922" rx="9" ry="6" transform="rotate(20 178 922)" fill="#3030ff" filter="url(#bl4)"/>
<ellipse cx="197" cy="930" rx="9" ry="7" transform="rotate(-10 197 930)" fill="#3030ff" filter="url(#bl4)"/>
<ellipse cx="216" cy="940" rx="7" ry="5" transform="rotate(30 216 940)" fill="#3030ff" filter="url(#bl4)"/>
<ellipse cx="170" cy="948" rx="6" ry="8" transform="rotate(0 170 948)" fill="#3030ff" filter="url(#bl4)"/>
<ellipse cx="188" cy="958" rx="7" ry="5" transform="rotate(20 188 958)" fill="#3030ff" filter="url(#bl4)"/>
<ellipse cx="218" cy="959" rx="7" ry="6" transform="rotate(40 218 959)" fill="#3030ff" filter="url(#bl4)"/>
<ellipse cx="176" cy="973" rx="8" ry="6" transform="rotate(0 176 973)" fill="#3030ff" filter="url(#bl4)"/>
<ellipse cx="214" cy="982" rx="8" ry="7" transform="rotate(20 214 982)" fill="#3030ff" filter="url(#bl4)"/>
<ellipse cx="200" cy="990" rx="8" ry="4" transform="rotate(0 200 990)" fill="#3030ff" filter="url(#bl4)"/>
<ellipse cx="168" cy="986" rx="5" ry="6" transform="rotate(0 168 986)" fill="#3030ff" filter="url(#bl4)"/>
<ellipse cx="224" cy="970" rx="6" ry="7" transform="rotate(0 224 970)" fill="#3030ff" filter="url(#bl4)"/>
<ellipse cx="205" cy="902" rx="6" ry="5" transform="rotate(0 205 902)" fill="#3030ff" filter="url(#bl4)"/>
<ellipse cx="223" cy="918" rx="5" ry="6" transform="rotate(20 223 918)" fill="#3030ff" filter="url(#bl4)"/>
<ellipse cx="190" cy="944" rx="6" ry="4" transform="rotate(10 190 944)" fill="#3030ff" filter="url(#bl4)"/>
<ellipse cx="228" cy="948" rx="4" ry="6" transform="rotate(10 228 948)" fill="#3030ff" filter="url(#bl4)"/>
<ellipse cx="185" cy="988" rx="6" ry="4" transform="rotate(0 185 988)" fill="#3030ff" filter="url(#bl4)"/>
<ellipse cx="201" cy="891" rx="8" ry="9" transform="rotate(20 201 891)" fill="#e040e0" filter="url(#bl4)"/>
<ellipse cx="210" cy="918" rx="9" ry="8" transform="rotate(0 210 918)" fill="#e850e8" filter="url(#bl4)"/>
<ellipse cx="174" cy="906" rx="5" ry="4" transform="rotate(30 174 906)" fill="#b030c8" filter="url(#bl4)"/>
<ellipse cx="170" cy="873" rx="6" ry="4" transform="rotate(0 170 873)" fill="#c030c0" filter="url(#bl4)"/>
<ellipse cx="219" cy="932" rx="7" ry="4.5" transform="rotate(20 219 932)" fill="#d848d8" filter="url(#bl4)"/>
<ellipse cx="206" cy="946" rx="8" ry="5" transform="rotate(30 206 946)" fill="#f048e0" filter="url(#bl4)"/>
<ellipse cx="197" cy="955" rx="6" ry="4" transform="rotate(30 197 955)" fill="#ff40d0" filter="url(#bl4)"/>
<ellipse cx="208" cy="972" rx="7" ry="6" transform="rotate(20 208 972)" fill="#e848e0" filter="url(#bl4)"/>
<ellipse cx="194" cy="984" rx="6" ry="7" transform="rotate(-10 194 984)" fill="#d840d0" filter="url(#bl4)"/>
<ellipse cx="177" cy="984" rx="4.5" ry="6.5" transform="rotate(0 177 984)" fill="#c838c8" filter="url(#bl4)"/>
<ellipse cx="168" cy="936" rx="4.5" ry="7" transform="rotate(0 168 936)" fill="#b030c0" filter="url(#bl4)"/>
<ellipse cx="223" cy="952" rx="5" ry="4" transform="rotate(0 223 952)" fill="#c040c8" filter="url(#bl4)"/>
<ellipse cx="183" cy="966" rx="6" ry="4" transform="rotate(0 183 966)" fill="#a830b8" filter="url(#bl4)"/>
<ellipse cx="181" cy="887" rx="5" ry="3.5" transform="rotate(0 181 887)" fill="#9828b0" filter="url(#bl4)"/>
<ellipse cx="189" cy="874" rx="5" ry="3" transform="rotate(0 189 874)" fill="#b838c0" filter="url(#bl4)"/>
<circle cx="212" cy="900" r="0.9" fill="#30e040" filter="url(#bl3)"/>
<circle cx="216" cy="906" r="0.9" fill="#30e040" filter="url(#bl3)"/>
<circle cx="221" cy="909" r="1.1" fill="#30e040" filter="url(#bl3)"/>
<circle cx="223" cy="915" r="0.8" fill="#30e040" filter="url(#bl3)"/>
<circle cx="226" cy="922" r="1.1" fill="#30e040" filter="url(#bl3)"/>
<circle cx="230" cy="930" r="0.9" fill="#30e040" filter="url(#bl3)"/>
<circle cx="232" cy="940" r="1.0" fill="#30e040" filter="url(#bl3)"/>
<circle cx="233" cy="948" r="1.1" fill="#30e040" filter="url(#bl3)"/>
<circle cx="229" cy="958" r="1.2" fill="#30e040" filter="url(#bl3)"/>
<circle cx="231" cy="965" r="1.1" fill="#30e040" filter="url(#bl3)"/>
<circle cx="233" cy="975" r="1.2" fill="#30e040" filter="url(#bl3)"/>
<circle cx="230" cy="985" r="1.0" fill="#30e040" filter="url(#bl3)"/>
<circle cx="219" cy="918" r="0.8" fill="#30e040" filter="url(#bl3)"/>
<circle cx="225" cy="904" r="1.1" fill="#30e040" filter="url(#bl3)"/>
<circle cx="222" cy="935" r="0.9" fill="#30e040" filter="url(#bl3)"/>
<circle cx="235" cy="955" r="0.9" fill="#30e040" filter="url(#bl3)"/>
<circle cx="224" cy="896" r="1.0" fill="#30e040" filter="url(#bl3)"/>
<circle cx="213" cy="896" r="0.9" fill="#30e040" filter="url(#bl3)"/>
<circle cx="228" cy="978" r="0.9" fill="#30e040" filter="url(#bl3)"/>
<circle cx="234" cy="968" r="0.8" fill="#30e040" filter="url(#bl3)"/>
<circle cx="181" cy="886" r="0.9" fill="#50d0ff" filter="url(#bl3)"/>
<circle cx="192" cy="884" r="0.9" fill="#50d0ff" filter="url(#bl3)"/>
<circle cx="209" cy="909" r="0.9" fill="#50d0ff" filter="url(#bl3)"/>
<circle cx="175" cy="907" r="0.9" fill="#50d0ff" filter="url(#bl3)"/>
<circle cx="196" cy="920" r="0.9" fill="#50d0ff" filter="url(#bl3)"/>
</g>
<path d="M229.3,904 L234.3,911.8 L224.4,911.8 Z" fill="#fff"/>
<path d="M233.2,930.8 L241.5,926 L241.5,935.7 Z" fill="#fff"/>
<path d="M236.5,947.5 L245.7,943 L245.7,952 Z" fill="#fff"/>
<path d="M239.3,958.7 L249,958.7 L244.1,966.6 Z" fill="#fff"/>
<path d="M236.8,973 L245.2,973 L241,979.8 Z" fill="none" stroke="#fff" stroke-width="0.9"/>
<line x1="129.60" y1="984.80" x2="151.40" y2="984.80" stroke="#fff" stroke-width="1.3"/>
<line x1="251.20" y1="983.00" x2="272.00" y2="983.00" stroke="#ddd" stroke-width="1.3"/>
<line x1="347.00" y1="905.20" x2="347.00" y2="966.20" stroke="#444" stroke-width="1.2"/>
<line x1="347.00" y1="965.60" x2="417.50" y2="965.60" stroke="#1a1a1a" stroke-width="1.2"/>
<line x1="344.20" y1="965.60" x2="347.00" y2="965.60" stroke="#444" stroke-width="1.2"/>
<text x="344.40" y="969.55" font-size="8.2" text-anchor="end" font-weight="bold" fill="#111" stroke="#111" stroke-width="0.2" >0</text>
<line x1="344.20" y1="950.50" x2="347.00" y2="950.50" stroke="#444" stroke-width="1.2"/>
<text x="344.40" y="954.45" font-size="8.2" text-anchor="end" font-weight="bold" fill="#111" stroke="#111" stroke-width="0.2" >10</text>
<line x1="344.20" y1="935.40" x2="347.00" y2="935.40" stroke="#444" stroke-width="1.2"/>
<text x="344.40" y="939.35" font-size="8.2" text-anchor="end" font-weight="bold" fill="#111" stroke="#111" stroke-width="0.2" >20</text>
<line x1="344.20" y1="920.30" x2="347.00" y2="920.30" stroke="#444" stroke-width="1.2"/>
<text x="344.40" y="924.25" font-size="8.2" text-anchor="end" font-weight="bold" fill="#111" stroke="#111" stroke-width="0.2" >30</text>
<line x1="344.20" y1="905.20" x2="347.00" y2="905.20" stroke="#444" stroke-width="1.2"/>
<text x="344.40" y="909.15" font-size="8.2" text-anchor="end" font-weight="bold" fill="#111" stroke="#111" stroke-width="0.2" >40</text>
<line x1="369.00" y1="965.60" x2="369.00" y2="970.80" stroke="#1a1a1a" stroke-width="1.2"/>
<rect x="358.10" y="946.27" width="21.80" height="19.33" fill="#8888FF" stroke="#555" stroke-width="0.6"/>
<line x1="369.00" y1="944.16" x2="369.00" y2="948.39" stroke="#222" stroke-width="0.8"/>
<line x1="364.50" y1="944.16" x2="373.50" y2="944.16" stroke="#222" stroke-width="0.8"/>
<line x1="364.50" y1="948.39" x2="373.50" y2="948.39" stroke="#222" stroke-width="0.8"/>
<circle cx="367.80" cy="936.91" r="0.85" fill="#000"/>
<circle cx="370.60" cy="941.44" r="0.85" fill="#000"/>
<circle cx="369.00" cy="944.46" r="0.85" fill="#000"/>
<circle cx="370.00" cy="947.48" r="0.85" fill="#000"/>
<circle cx="367.50" cy="950.50" r="0.85" fill="#000"/>
<circle cx="369.50" cy="956.54" r="0.85" fill="#000"/>
<circle cx="368.50" cy="948.99" r="0.85" fill="#000"/>
<line x1="396.00" y1="965.60" x2="396.00" y2="970.80" stroke="#1a1a1a" stroke-width="1.2"/>
<rect x="385.10" y="925.13" width="21.80" height="40.47" fill="#FF7C7C" stroke="#555" stroke-width="0.6"/>
<line x1="396.00" y1="922.26" x2="396.00" y2="928.00" stroke="#222" stroke-width="0.8"/>
<line x1="391.50" y1="922.26" x2="400.50" y2="922.26" stroke="#222" stroke-width="0.8"/>
<line x1="391.50" y1="928.00" x2="400.50" y2="928.00" stroke="#222" stroke-width="0.8"/>
<circle cx="394.80" cy="912.75" r="0.85" fill="#000"/>
<circle cx="397.60" cy="917.28" r="0.85" fill="#000"/>
<circle cx="396.00" cy="921.81" r="0.85" fill="#000"/>
<circle cx="397.00" cy="924.83" r="0.85" fill="#000"/>
<circle cx="394.50" cy="929.36" r="0.85" fill="#000"/>
<circle cx="396.50" cy="935.40" r="0.85" fill="#000"/>
<circle cx="395.50" cy="939.93" r="0.85" fill="#000"/>
<text x="369.50" y="977.80" font-size="9.1" text-anchor="middle" font-weight="bold" fill="#111" stroke="#111" stroke-width="0.2" >NT</text>
<text x="398.00" y="977.80" font-size="9.1" text-anchor="middle" font-weight="bold" fill="#111" stroke="#111" stroke-width="0.2" >EV39</text>
<line x1="351.40" y1="887.20" x2="415.60" y2="887.20" stroke="#555" stroke-width="1.0"/>
<text x="383.50" y="882.60" font-size="9.1" text-anchor="middle" font-weight="bold" fill="#111" stroke="#111" stroke-width="0.2" >CFTR positive cell</text>
<path d="M367.40,911.80 V910.40 Q367.40,909.40 368.40,909.40 H395.60 Q396.60,909.40 396.60,910.40 V911.80" fill="none" stroke="#222" stroke-width="0.85"/>
<path d="M376.60,901.70 L377.42,903.07 L378.98,903.43 L377.93,904.63 L378.07,906.22 L376.60,905.60 L375.13,906.22 L375.27,904.63 L374.22,903.43 L375.78,903.07 Z M382.00,901.70 L382.82,903.07 L384.38,903.43 L383.33,904.63 L383.47,906.22 L382.00,905.60 L380.53,906.22 L380.67,904.63 L379.62,903.43 L381.18,903.07 Z M387.40,901.70 L388.22,903.07 L389.78,903.43 L388.73,904.63 L388.87,906.22 L387.40,905.60 L385.93,906.22 L386.07,904.63 L385.02,903.43 L386.58,903.07 Z" fill="#111"/>
<text x="327.30" y="922.00" font-size="9.2" text-anchor="middle" font-weight="bold" fill="#111" stroke="#111" stroke-width="0.22" transform="rotate(-90 327.30 922.00)">CFTR positive cells/organoids</text>
<line x1="466.20" y1="906.40" x2="466.20" y2="966.30" stroke="#444" stroke-width="1.2"/>
<line x1="466.20" y1="965.70" x2="531.00" y2="965.70" stroke="#1a1a1a" stroke-width="1.2"/>
<line x1="463.40" y1="965.70" x2="466.20" y2="965.70" stroke="#444" stroke-width="1.2"/>
<text x="463.60" y="969.65" font-size="8.2" text-anchor="end" font-weight="bold" fill="#111" stroke="#111" stroke-width="0.2" >0</text>
<line x1="463.40" y1="950.88" x2="466.20" y2="950.88" stroke="#444" stroke-width="1.2"/>
<text x="463.60" y="954.83" font-size="8.2" text-anchor="end" font-weight="bold" fill="#111" stroke="#111" stroke-width="0.2" >5</text>
<line x1="463.40" y1="936.05" x2="466.20" y2="936.05" stroke="#444" stroke-width="1.2"/>
<text x="463.60" y="940.00" font-size="8.2" text-anchor="end" font-weight="bold" fill="#111" stroke="#111" stroke-width="0.2" >10</text>
<line x1="463.40" y1="921.23" x2="466.20" y2="921.23" stroke="#444" stroke-width="1.2"/>
<text x="463.60" y="925.18" font-size="8.2" text-anchor="end" font-weight="bold" fill="#111" stroke="#111" stroke-width="0.2" >15</text>
<line x1="463.40" y1="906.40" x2="466.20" y2="906.40" stroke="#444" stroke-width="1.2"/>
<text x="463.60" y="910.35" font-size="8.2" text-anchor="end" font-weight="bold" fill="#111" stroke="#111" stroke-width="0.2" >20</text>
<line x1="486.30" y1="965.70" x2="486.30" y2="970.90" stroke="#1a1a1a" stroke-width="1.2"/>
<rect x="476.45" y="957.99" width="19.70" height="7.71" fill="#8888FF" stroke="#555" stroke-width="0.6"/>
<line x1="486.30" y1="956.51" x2="486.30" y2="959.47" stroke="#222" stroke-width="0.8"/>
<line x1="482.16" y1="956.51" x2="490.44" y2="956.51" stroke="#222" stroke-width="0.8"/>
<line x1="482.16" y1="959.47" x2="490.44" y2="959.47" stroke="#222" stroke-width="0.8"/>
<circle cx="485.10" cy="947.91" r="0.85" fill="#000"/>
<circle cx="487.90" cy="953.84" r="0.85" fill="#000"/>
<circle cx="486.30" cy="956.81" r="0.85" fill="#000"/>
<circle cx="487.30" cy="959.77" r="0.85" fill="#000"/>
<circle cx="484.80" cy="961.25" r="0.85" fill="#000"/>
<circle cx="486.80" cy="962.74" r="0.85" fill="#000"/>
<circle cx="485.80" cy="965.70" r="0.85" fill="#000"/>
<line x1="511.00" y1="965.70" x2="511.00" y2="970.90" stroke="#1a1a1a" stroke-width="1.2"/>
<rect x="501.15" y="939.02" width="19.70" height="26.68" fill="#FF7C7C" stroke="#555" stroke-width="0.6"/>
<line x1="511.00" y1="936.05" x2="511.00" y2="941.98" stroke="#222" stroke-width="0.8"/>
<line x1="506.86" y1="936.05" x2="515.14" y2="936.05" stroke="#222" stroke-width="0.8"/>
<line x1="506.86" y1="941.98" x2="515.14" y2="941.98" stroke="#222" stroke-width="0.8"/>
<circle cx="509.80" cy="921.23" r="0.85" fill="#000"/>
<circle cx="512.60" cy="933.09" r="0.85" fill="#000"/>
<circle cx="511.00" cy="936.05" r="0.85" fill="#000"/>
<circle cx="512.00" cy="941.98" r="0.85" fill="#000"/>
<circle cx="509.50" cy="944.95" r="0.85" fill="#000"/>
<circle cx="511.50" cy="950.88" r="0.85" fill="#000"/>
<circle cx="510.50" cy="953.84" r="0.85" fill="#000"/>
<text x="486.80" y="977.80" font-size="9.1" text-anchor="middle" font-weight="bold" fill="#111" stroke="#111" stroke-width="0.2" >NT</text>
<text x="513.00" y="977.80" font-size="9.1" text-anchor="middle" font-weight="bold" fill="#111" stroke="#111" stroke-width="0.2" >EV39</text>
<line x1="471.70" y1="887.40" x2="530.50" y2="887.40" stroke="#555" stroke-width="1.0"/>
<text x="501.10" y="882.60" font-size="9.1" text-anchor="middle" font-weight="bold" fill="#111" stroke="#111" stroke-width="0.2" >EdU (+)/CFTR (+)</text>
<path d="M482.30,917.00 V915.60 Q482.30,914.60 483.30,914.60 H510.50 Q511.50,914.60 511.50,915.60 V917.00" fill="none" stroke="#222" stroke-width="0.85"/>
<path d="M491.50,906.90 L492.32,908.27 L493.88,908.63 L492.83,909.83 L492.97,911.42 L491.50,910.80 L490.03,911.42 L490.17,909.83 L489.12,908.63 L490.68,908.27 Z M496.90,906.90 L497.72,908.27 L499.28,908.63 L498.23,909.83 L498.37,911.42 L496.90,910.80 L495.43,911.42 L495.57,909.83 L494.52,908.63 L496.08,908.27 Z M502.30,906.90 L503.12,908.27 L504.68,908.63 L503.63,909.83 L503.77,911.42 L502.30,910.80 L500.83,911.42 L500.97,909.83 L499.92,908.63 L501.48,908.27 Z" fill="#111"/>
<text x="441.80" y="922.00" font-size="9.2" text-anchor="middle" font-weight="bold" fill="#111" stroke="#111" stroke-width="0.22" transform="rotate(-90 441.80 922.00)">CFTR positive cells/organoids</text>
<line x1="582.40" y1="911.20" x2="582.40" y2="967.30" stroke="#444" stroke-width="1.2"/>
<line x1="582.40" y1="966.70" x2="646.60" y2="966.70" stroke="#1a1a1a" stroke-width="1.2"/>
<line x1="579.60" y1="966.70" x2="582.40" y2="966.70" stroke="#444" stroke-width="1.2"/>
<text x="579.80" y="970.65" font-size="8.2" text-anchor="end" font-weight="bold" fill="#111" stroke="#111" stroke-width="0.2" >0</text>
<line x1="579.60" y1="948.20" x2="582.40" y2="948.20" stroke="#444" stroke-width="1.2"/>
<text x="579.80" y="952.15" font-size="8.2" text-anchor="end" font-weight="bold" fill="#111" stroke="#111" stroke-width="0.2" >10</text>
<line x1="579.60" y1="929.70" x2="582.40" y2="929.70" stroke="#444" stroke-width="1.2"/>
<text x="579.80" y="933.65" font-size="8.2" text-anchor="end" font-weight="bold" fill="#111" stroke="#111" stroke-width="0.2" >20</text>
<line x1="579.60" y1="911.20" x2="582.40" y2="911.20" stroke="#444" stroke-width="1.2"/>
<text x="579.80" y="915.15" font-size="8.2" text-anchor="end" font-weight="bold" fill="#111" stroke="#111" stroke-width="0.2" >30</text>
<line x1="602.20" y1="966.70" x2="602.20" y2="971.90" stroke="#1a1a1a" stroke-width="1.2"/>
<rect x="592.35" y="946.72" width="19.70" height="19.98" fill="#8888FF" stroke="#555" stroke-width="0.6"/>
<line x1="602.20" y1="944.32" x2="602.20" y2="949.12" stroke="#222" stroke-width="0.8"/>
<line x1="598.06" y1="944.32" x2="606.34" y2="944.32" stroke="#222" stroke-width="0.8"/>
<line x1="598.06" y1="949.12" x2="606.34" y2="949.12" stroke="#222" stroke-width="0.8"/>
<circle cx="601.00" cy="929.70" r="0.85" fill="#000"/>
<circle cx="603.80" cy="940.80" r="0.85" fill="#000"/>
<circle cx="602.20" cy="944.50" r="0.85" fill="#000"/>
<circle cx="603.20" cy="946.35" r="0.85" fill="#000"/>
<circle cx="600.70" cy="950.05" r="0.85" fill="#000"/>
<circle cx="602.70" cy="951.90" r="0.85" fill="#000"/>
<circle cx="601.70" cy="957.45" r="0.85" fill="#000"/>
<line x1="626.50" y1="966.70" x2="626.50" y2="971.90" stroke="#1a1a1a" stroke-width="1.2"/>
<rect x="616.65" y="933.40" width="19.70" height="33.30" fill="#FF7C7C" stroke="#555" stroke-width="0.6"/>
<line x1="626.50" y1="931.18" x2="626.50" y2="935.62" stroke="#222" stroke-width="0.8"/>
<line x1="622.36" y1="931.18" x2="630.64" y2="931.18" stroke="#222" stroke-width="0.8"/>
<line x1="622.36" y1="935.62" x2="630.64" y2="935.62" stroke="#222" stroke-width="0.8"/>
<circle cx="625.30" cy="924.15" r="0.85" fill="#000"/>
<circle cx="628.10" cy="927.85" r="0.85" fill="#000"/>
<circle cx="626.50" cy="931.55" r="0.85" fill="#000"/>
<circle cx="627.50" cy="935.25" r="0.85" fill="#000"/>
<circle cx="625.00" cy="937.10" r="0.85" fill="#000"/>
<circle cx="627.00" cy="938.95" r="0.85" fill="#000"/>
<circle cx="626.00" cy="944.50" r="0.85" fill="#000"/>
<text x="602.70" y="977.80" font-size="9.1" text-anchor="middle" font-weight="bold" fill="#111" stroke="#111" stroke-width="0.2" >NT</text>
<text x="628.50" y="977.80" font-size="9.1" text-anchor="middle" font-weight="bold" fill="#111" stroke="#111" stroke-width="0.2" >EV39</text>
<line x1="584.90" y1="887.40" x2="645.10" y2="887.40" stroke="#555" stroke-width="1.0"/>
<text x="615.00" y="882.60" font-size="9.1" text-anchor="middle" font-weight="bold" fill="#111" stroke="#111" stroke-width="0.2" >EdU (-)/CFTR (+)</text>
<path d="M601.60,917.60 V916.20 Q601.60,915.20 602.60,915.20 H629.40 Q630.40,915.20 630.40,916.20 V917.60" fill="none" stroke="#222" stroke-width="0.85"/>
<path d="M613.30,907.50 L614.12,908.87 L615.68,909.23 L614.63,910.43 L614.77,912.02 L613.30,911.40 L611.83,912.02 L611.97,910.43 L610.92,909.23 L612.48,908.87 Z M618.70,907.50 L619.52,908.87 L621.08,909.23 L620.03,910.43 L620.17,912.02 L618.70,911.40 L617.23,912.02 L617.37,910.43 L616.32,909.23 L617.88,908.87 Z" fill="#111"/>
<text x="559.10" y="922.00" font-size="9.2" text-anchor="middle" font-weight="bold" fill="#111" stroke="#111" stroke-width="0.22" transform="rotate(-90 559.10 922.00)">CFTR positive cells/organoids</text>
</svg></body></html>
